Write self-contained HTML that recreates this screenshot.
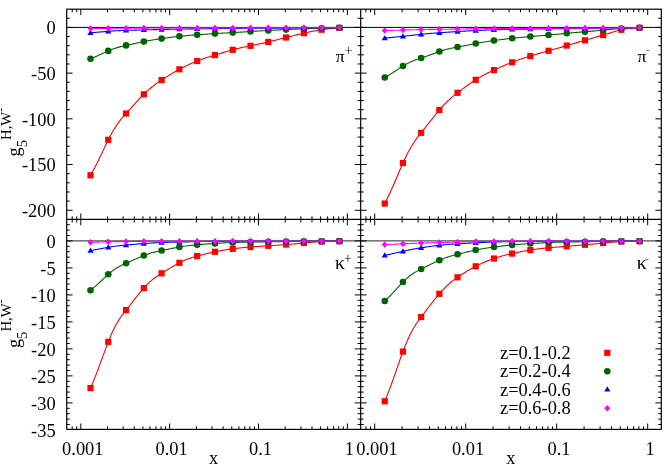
<!DOCTYPE html>
<html><head><meta charset="utf-8"><title>g5 H,W- plots</title>
<style>html,body{margin:0;padding:0;background:#fff;}body{width:668px;height:467px;overflow:hidden;font-family:"Liberation Serif",serif;}svg{display:block;will-change:transform;opacity:0.999;}</style></head>
<body>
<svg width="668" height="467" viewBox="0 0 668 467" font-family="'Liberation Serif', serif" font-size="18.4" fill="#000">
<rect width="668" height="467" fill="#fff"/>
<line x1="66.7" y1="27.4" x2="661.3" y2="27.4" stroke="#000" stroke-width="1.0"/>
<line x1="66.7" y1="240.9" x2="661.3" y2="240.9" stroke="#222" stroke-width="1.0"/>
<polyline points="90.5,175.3 91.39,173.74 92.28,172.15 93.17,170.53 94.06,168.87 94.94,167.18 95.83,165.47 96.72,163.72 97.61,161.94 98.5,160.14 99.39,158.32 100.28,156.48 101.17,154.62 102.06,152.75 102.95,150.88 103.83,149 104.72,147.13 105.61,145.26 106.5,143.41 107.39,141.59 108.28,139.8 109.17,138.05 110.06,136.34 110.95,134.68 111.84,133.07 112.72,131.51 113.61,129.99 114.5,128.52 115.39,127.11 116.28,125.74 117.17,124.43 118.06,123.16 118.95,121.94 119.84,120.77 120.73,119.64 121.62,118.55 122.5,117.5 123.39,116.47 124.28,115.47 125.17,114.48 126.06,113.5 126.95,112.52 127.84,111.54 128.73,110.55 129.62,109.56 130.5,108.58 131.39,107.59 132.28,106.61 133.17,105.62 134.06,104.64 134.95,103.66 135.84,102.69 136.73,101.72 137.62,100.76 138.51,99.81 139.4,98.86 140.28,97.93 141.17,97 142.06,96.09 142.95,95.19 143.84,94.3 144.73,93.43 145.62,92.57 146.51,91.73 147.4,90.9 148.28,90.09 149.17,89.3 150.06,88.53 150.95,87.78 151.84,87.04 152.73,86.33 153.62,85.63 154.51,84.95 155.4,84.29 156.29,83.64 157.18,83.02 158.06,82.4 158.95,81.8 159.84,81.21 160.73,80.63 161.62,80.05 162.51,79.47 163.4,78.9 164.29,78.33 165.18,77.76 166.06,77.2 166.95,76.63 167.84,76.08 168.73,75.52 169.62,74.97 170.51,74.43 171.4,73.89 172.29,73.36 173.18,72.83 174.07,72.31 174.96,71.79 175.84,71.28 176.73,70.78 177.62,70.28 178.51,69.79 179.4,69.3 180.29,68.82 181.18,68.34 182.07,67.88 182.96,67.41 183.84,66.96 184.73,66.51 185.62,66.07 186.51,65.63 187.4,65.21 188.29,64.79 189.18,64.38 190.07,63.98 190.96,63.59 191.85,63.21 192.74,62.83 193.62,62.46 194.51,62.1 195.4,61.74 196.29,61.39 197.18,61.05 198.07,60.71 198.96,60.37 199.85,60.04 200.74,59.71 201.62,59.39 202.51,59.07 203.4,58.75 204.29,58.44 205.18,58.14 206.07,57.84 206.96,57.54 207.85,57.25 208.74,56.96 209.63,56.68 210.52,56.4 211.4,56.13 212.29,55.86 213.18,55.59 214.07,55.32 214.96,55.05 215.85,54.78 216.74,54.51 217.63,54.24 218.52,53.97 219.41,53.7 220.29,53.43 221.18,53.16 222.07,52.89 222.96,52.63 223.85,52.36 224.74,52.09 225.63,51.83 226.52,51.57 227.41,51.31 228.3,51.05 229.18,50.79 230.07,50.54 230.96,50.29 231.85,50.04 232.74,49.8 233.63,49.56 234.52,49.33 235.41,49.1 236.3,48.87 237.19,48.65 238.07,48.43 238.96,48.22 239.85,48.01 240.74,47.81 241.63,47.61 242.52,47.41 243.41,47.22 244.3,47.04 245.19,46.86 246.08,46.68 246.96,46.5 247.85,46.32 248.74,46.15 249.63,45.97 250.52,45.8 251.41,45.62 252.3,45.44 253.19,45.26 254.08,45.08 254.97,44.9 255.85,44.71 256.74,44.52 257.63,44.33 258.52,44.14 259.41,43.94 260.3,43.74 261.19,43.55 262.08,43.35 262.97,43.14 263.86,42.94 264.74,42.74 265.63,42.53 266.52,42.32 267.41,42.11 268.3,41.9 269.19,41.69 270.08,41.47 270.97,41.26 271.86,41.04 272.75,40.83 273.63,40.61 274.52,40.39 275.41,40.17 276.3,39.95 277.19,39.73 278.08,39.51 278.97,39.28 279.86,39.06 280.75,38.84 281.63,38.62 282.52,38.39 283.41,38.17 284.3,37.95 285.19,37.72 286.08,37.5 286.97,37.28 287.86,37.05 288.75,36.83 289.64,36.61 290.52,36.39 291.41,36.17 292.3,35.95 293.19,35.73 294.08,35.51 294.97,35.29 295.86,35.08 296.75,34.86 297.64,34.65 298.53,34.44 299.42,34.23 300.3,34.02 301.19,33.81 302.08,33.61 302.97,33.4 303.86,33.2 304.75,33 305.64,32.8 306.53,32.6 307.42,32.41 308.31,32.21 309.19,32.02 310.08,31.83 310.97,31.65 311.86,31.46 312.75,31.28 313.64,31.11 314.53,30.94 315.42,30.77 316.31,30.6 317.2,30.44 318.08,30.28 318.97,30.13 319.86,29.98 320.75,29.84 321.64,29.7 322.53,29.57 323.42,29.44 324.31,29.31 325.2,29.19 326.08,29.08 326.97,28.97 327.86,28.86 328.75,28.76 329.64,28.67 330.53,28.58 331.42,28.5 332.31,28.42 333.2,28.34 334.09,28.27 334.98,28.21 335.86,28.14 336.75,28.08 337.64,28.02 338.53,27.96 339.42,27.9" fill="none" stroke="#ff0000" stroke-width="1.1" stroke-linejoin="round"/>
<rect x="87.4" y="172.2" width="6.2" height="6.2" fill="#ff0000"/>
<rect x="105.18" y="136.7" width="6.2" height="6.2" fill="#ff0000"/>
<rect x="122.96" y="110.4" width="6.2" height="6.2" fill="#ff0000"/>
<rect x="140.74" y="91.2" width="6.2" height="6.2" fill="#ff0000"/>
<rect x="158.52" y="76.95" width="6.2" height="6.2" fill="#ff0000"/>
<rect x="176.3" y="66.2" width="6.2" height="6.2" fill="#ff0000"/>
<rect x="194.08" y="57.95" width="6.2" height="6.2" fill="#ff0000"/>
<rect x="211.86" y="51.95" width="6.2" height="6.2" fill="#ff0000"/>
<rect x="229.64" y="46.7" width="6.2" height="6.2" fill="#ff0000"/>
<rect x="247.42" y="42.7" width="6.2" height="6.2" fill="#ff0000"/>
<rect x="265.2" y="38.8" width="6.2" height="6.2" fill="#ff0000"/>
<rect x="282.98" y="34.4" width="6.2" height="6.2" fill="#ff0000"/>
<rect x="300.76" y="30.1" width="6.2" height="6.2" fill="#ff0000"/>
<rect x="318.54" y="26.6" width="6.2" height="6.2" fill="#ff0000"/>
<rect x="336.32" y="24.8" width="6.2" height="6.2" fill="#ff0000"/>
<polyline points="90.5,58.7 91.39,58.36 92.28,58.01 93.17,57.65 94.06,57.28 94.94,56.91 95.83,56.53 96.72,56.15 97.61,55.75 98.5,55.36 99.39,54.96 100.28,54.55 101.17,54.14 102.06,53.73 102.95,53.32 103.83,52.91 104.72,52.5 105.61,52.09 106.5,51.69 107.39,51.29 108.28,50.9 109.17,50.52 110.06,50.15 110.95,49.79 111.84,49.45 112.72,49.11 113.61,48.79 114.5,48.48 115.39,48.18 116.28,47.89 117.17,47.62 118.06,47.35 118.95,47.1 119.84,46.86 120.73,46.63 121.62,46.41 122.5,46.2 123.39,45.99 124.28,45.79 125.17,45.59 126.06,45.4 126.95,45.21 127.84,45.01 128.73,44.82 129.62,44.62 130.5,44.43 131.39,44.23 132.28,44.04 133.17,43.84 134.06,43.65 134.95,43.46 135.84,43.27 136.73,43.07 137.62,42.89 138.51,42.7 139.4,42.51 140.28,42.32 141.17,42.14 142.06,41.96 142.95,41.78 143.84,41.6 144.73,41.42 145.62,41.25 146.51,41.08 147.4,40.91 148.28,40.75 149.17,40.58 150.06,40.42 150.95,40.27 151.84,40.11 152.73,39.96 153.62,39.81 154.51,39.67 155.4,39.53 156.29,39.39 157.18,39.25 158.06,39.12 158.95,38.99 159.84,38.86 160.73,38.73 161.62,38.6 162.51,38.47 163.4,38.35 164.29,38.22 165.18,38.1 166.06,37.97 166.95,37.85 167.84,37.73 168.73,37.61 169.62,37.49 170.51,37.37 171.4,37.26 172.29,37.14 173.18,37.03 174.07,36.92 174.96,36.81 175.84,36.71 176.73,36.6 177.62,36.5 178.51,36.4 179.4,36.3 180.29,36.2 181.18,36.11 182.07,36.02 182.96,35.93 183.84,35.84 184.73,35.76 185.62,35.67 186.51,35.59 187.4,35.52 188.29,35.44 189.18,35.37 190.07,35.3 190.96,35.23 191.85,35.17 192.74,35.1 193.62,35.04 194.51,34.98 195.4,34.92 196.29,34.86 197.18,34.8 198.07,34.74 198.96,34.68 199.85,34.62 200.74,34.56 201.62,34.5 202.51,34.44 203.4,34.38 204.29,34.32 205.18,34.26 206.07,34.2 206.96,34.14 207.85,34.07 208.74,34.01 209.63,33.95 210.52,33.89 211.4,33.83 212.29,33.77 213.18,33.72 214.07,33.66 214.96,33.6 215.85,33.54 216.74,33.49 217.63,33.43 218.52,33.38 219.41,33.32 220.29,33.27 221.18,33.22 222.07,33.17 222.96,33.12 223.85,33.07 224.74,33.02 225.63,32.97 226.52,32.93 227.41,32.88 228.3,32.83 229.18,32.79 230.07,32.74 230.96,32.69 231.85,32.65 232.74,32.6 233.63,32.55 234.52,32.5 235.41,32.45 236.3,32.4 237.19,32.35 238.07,32.3 238.96,32.24 239.85,32.19 240.74,32.13 241.63,32.08 242.52,32.02 243.41,31.96 244.3,31.91 245.19,31.85 246.08,31.79 246.96,31.73 247.85,31.67 248.74,31.62 249.63,31.56 250.52,31.5 251.41,31.44 252.3,31.39 253.19,31.33 254.08,31.28 254.97,31.22 255.85,31.17 256.74,31.12 257.63,31.06 258.52,31.01 259.41,30.96 260.3,30.91 261.19,30.87 262.08,30.82 262.97,30.77 263.86,30.73 264.74,30.68 265.63,30.63 266.52,30.59 267.41,30.54 268.3,30.5 269.19,30.46 270.08,30.41 270.97,30.37 271.86,30.32 272.75,30.27 273.63,30.23 274.52,30.18 275.41,30.14 276.3,30.09 277.19,30.05 278.08,30 278.97,29.96 279.86,29.91 280.75,29.87 281.63,29.82 282.52,29.78 283.41,29.73 284.3,29.69 285.19,29.64 286.08,29.6 286.97,29.56 287.86,29.51 288.75,29.47 289.64,29.43 290.52,29.38 291.41,29.34 292.3,29.3 293.19,29.26 294.08,29.22 294.97,29.18 295.86,29.14 296.75,29.1 297.64,29.06 298.53,29.02 299.42,28.98 300.3,28.94 301.19,28.91 302.08,28.87 302.97,28.84 303.86,28.8 304.75,28.76 305.64,28.73 306.53,28.7 307.42,28.66 308.31,28.63 309.19,28.6 310.08,28.56 310.97,28.53 311.86,28.5 312.75,28.47 313.64,28.44 314.53,28.41 315.42,28.38 316.31,28.35 317.2,28.33 318.08,28.3 318.97,28.27 319.86,28.25 320.75,28.22 321.64,28.2 322.53,28.18 323.42,28.15 324.31,28.13 325.2,28.11 326.08,28.08 326.97,28.06 327.86,28.04 328.75,28.02 329.64,28 330.53,27.98 331.42,27.96 332.31,27.94 333.2,27.93 334.09,27.91 334.98,27.89 335.86,27.87 336.75,27.85 337.64,27.84 338.53,27.82 339.42,27.8" fill="none" stroke="#006400" stroke-width="1.1" stroke-linejoin="round"/>
<circle cx="90.5" cy="58.7" r="3.3" fill="#006400"/>
<circle cx="108.28" cy="50.9" r="3.3" fill="#006400"/>
<circle cx="126.06" cy="45.4" r="3.3" fill="#006400"/>
<circle cx="143.84" cy="41.6" r="3.3" fill="#006400"/>
<circle cx="161.62" cy="38.6" r="3.3" fill="#006400"/>
<circle cx="179.4" cy="36.3" r="3.3" fill="#006400"/>
<circle cx="197.18" cy="34.8" r="3.3" fill="#006400"/>
<circle cx="214.96" cy="33.6" r="3.3" fill="#006400"/>
<circle cx="232.74" cy="32.6" r="3.3" fill="#006400"/>
<circle cx="250.52" cy="31.5" r="3.3" fill="#006400"/>
<circle cx="268.3" cy="30.5" r="3.3" fill="#006400"/>
<circle cx="286.08" cy="29.6" r="3.3" fill="#006400"/>
<circle cx="303.86" cy="28.8" r="3.3" fill="#006400"/>
<circle cx="321.64" cy="28.2" r="3.3" fill="#006400"/>
<circle cx="339.42" cy="27.8" r="3.3" fill="#006400"/>
<polyline points="90.5,32.8 91.39,32.73 92.28,32.66 93.17,32.6 94.06,32.52 94.94,32.45 95.83,32.38 96.72,32.3 97.61,32.23 98.5,32.15 99.39,32.07 100.28,31.99 101.17,31.92 102.06,31.84 102.95,31.76 103.83,31.68 104.72,31.6 105.61,31.52 106.5,31.45 107.39,31.37 108.28,31.3 109.17,31.23 110.06,31.16 110.95,31.1 111.84,31.04 112.72,30.98 113.61,30.92 114.5,30.87 115.39,30.82 116.28,30.77 117.17,30.72 118.06,30.68 118.95,30.64 119.84,30.6 120.73,30.57 121.62,30.54 122.5,30.51 123.39,30.48 124.28,30.45 125.17,30.43 126.06,30.4 126.95,30.37 127.84,30.35 128.73,30.32 129.62,30.3 130.5,30.27 131.39,30.25 132.28,30.22 133.17,30.2 134.06,30.17 134.95,30.14 135.84,30.12 136.73,30.09 137.62,30.07 138.51,30.04 139.4,30.02 140.28,29.99 141.17,29.97 142.06,29.95 142.95,29.92 143.84,29.9 144.73,29.88 145.62,29.85 146.51,29.83 147.4,29.81 148.28,29.79 149.17,29.77 150.06,29.75 150.95,29.73 151.84,29.71 152.73,29.69 153.62,29.67 154.51,29.65 155.4,29.63 156.29,29.61 157.18,29.59 158.06,29.57 158.95,29.55 159.84,29.54 160.73,29.52 161.62,29.5 162.51,29.48 163.4,29.46 164.29,29.44 165.18,29.42 166.06,29.4 166.95,29.38 167.84,29.36 168.73,29.34 169.62,29.32 170.51,29.3 171.4,29.28 172.29,29.26 173.18,29.24 174.07,29.22 174.96,29.2 175.84,29.18 176.73,29.16 177.62,29.14 178.51,29.12 179.4,29.1 180.29,29.08 181.18,29.06 182.07,29.04 182.96,29.03 183.84,29.01 184.73,28.99 185.62,28.97 186.51,28.96 187.4,28.94 188.29,28.93 189.18,28.91 190.07,28.9 190.96,28.88 191.85,28.87 192.74,28.86 193.62,28.85 194.51,28.83 195.4,28.82 196.29,28.81 197.18,28.8 198.07,28.79 198.96,28.78 199.85,28.77 200.74,28.76 201.62,28.75 202.51,28.74 203.4,28.73 204.29,28.71 205.18,28.7 206.07,28.69 206.96,28.69 207.85,28.68 208.74,28.67 209.63,28.66 210.52,28.65 211.4,28.64 212.29,28.63 213.18,28.62 214.07,28.61 214.96,28.6 215.85,28.59 216.74,28.58 217.63,28.57 218.52,28.56 219.41,28.55 220.29,28.54 221.18,28.53 222.07,28.52 222.96,28.51 223.85,28.5 224.74,28.49 225.63,28.48 226.52,28.47 227.41,28.46 228.3,28.45 229.18,28.44 230.07,28.43 230.96,28.42 231.85,28.41 232.74,28.4 233.63,28.39 234.52,28.38 235.41,28.38 236.3,28.37 237.19,28.36 238.07,28.35 238.96,28.35 239.85,28.34 240.74,28.34 241.63,28.33 242.52,28.33 243.41,28.32 244.3,28.32 245.19,28.32 246.08,28.31 246.96,28.31 247.85,28.31 248.74,28.31 249.63,28.3 250.52,28.3 251.41,28.3 252.3,28.29 253.19,28.29 254.08,28.29 254.97,28.28 255.85,28.28 256.74,28.27 257.63,28.27 258.52,28.26 259.41,28.26 260.3,28.25 261.19,28.25 262.08,28.24 262.97,28.24 263.86,28.23 264.74,28.22 265.63,28.22 266.52,28.21 267.41,28.21 268.3,28.2 269.19,28.19 270.08,28.19 270.97,28.18 271.86,28.18 272.75,28.17 273.63,28.17 274.52,28.16 275.41,28.16 276.3,28.15 277.19,28.15 278.08,28.14 278.97,28.14 279.86,28.13 280.75,28.13 281.63,28.12 282.52,28.12 283.41,28.11 284.3,28.11 285.19,28.1 286.08,28.1 286.97,28.1 287.86,28.09 288.75,28.09 289.64,28.08 290.52,28.08 291.41,28.07 292.3,28.07 293.19,28.06 294.08,28.06 294.97,28.05 295.86,28.05 296.75,28.04 297.64,28.04 298.53,28.03 299.42,28.03 300.3,28.02 301.19,28.02 302.08,28.01 302.97,28.01 303.86,28 304.75,27.99 305.64,27.99 306.53,27.98 307.42,27.98 308.31,27.97 309.19,27.97 310.08,27.96 310.97,27.96 311.86,27.95 312.75,27.95 313.64,27.94 314.53,27.94 315.42,27.93 316.31,27.93 317.2,27.92 318.08,27.92 318.97,27.91 319.86,27.91 320.75,27.9 321.64,27.9 322.53,27.9 323.42,27.89 324.31,27.89 325.2,27.88 326.08,27.88 326.97,27.87 327.86,27.87 328.75,27.86 329.64,27.86 330.53,27.85 331.42,27.85 332.31,27.84 333.2,27.84 334.09,27.83 334.98,27.83 335.86,27.82 336.75,27.82 337.64,27.81 338.53,27.81 339.42,27.8" fill="none" stroke="#0000ff" stroke-width="1.1" stroke-linejoin="round"/>
<path d="M90.5 29.8L93.6 34.93L87.4 34.93Z" fill="#0000ff"/>
<path d="M108.28 28.3L111.38 33.43L105.18 33.43Z" fill="#0000ff"/>
<path d="M126.06 27.4L129.16 32.53L122.96 32.53Z" fill="#0000ff"/>
<path d="M143.84 26.9L146.94 32.03L140.74 32.03Z" fill="#0000ff"/>
<path d="M161.62 26.5L164.72 31.63L158.52 31.63Z" fill="#0000ff"/>
<path d="M179.4 26.1L182.5 31.23L176.3 31.23Z" fill="#0000ff"/>
<path d="M197.18 25.8L200.28 30.93L194.08 30.93Z" fill="#0000ff"/>
<path d="M214.96 25.6L218.06 30.73L211.86 30.73Z" fill="#0000ff"/>
<path d="M232.74 25.4L235.84 30.53L229.64 30.53Z" fill="#0000ff"/>
<path d="M250.52 25.3L253.62 30.43L247.42 30.43Z" fill="#0000ff"/>
<path d="M268.3 25.2L271.4 30.33L265.2 30.33Z" fill="#0000ff"/>
<path d="M286.08 25.1L289.18 30.23L282.98 30.23Z" fill="#0000ff"/>
<path d="M303.86 25L306.96 30.13L300.76 30.13Z" fill="#0000ff"/>
<path d="M321.64 24.9L324.74 30.03L318.54 30.03Z" fill="#0000ff"/>
<path d="M339.42 24.8L342.52 29.93L336.32 29.93Z" fill="#0000ff"/>
<polyline points="90.5,28.5 91.39,28.49 92.28,28.48 93.17,28.47 94.06,28.46 94.94,28.45 95.83,28.44 96.72,28.43 97.61,28.42 98.5,28.41 99.39,28.4 100.28,28.39 101.17,28.38 102.06,28.37 102.95,28.36 103.83,28.35 104.72,28.34 105.61,28.33 106.5,28.32 107.39,28.31 108.28,28.3 109.17,28.29 110.06,28.28 110.95,28.27 111.84,28.27 112.72,28.26 113.61,28.25 114.5,28.25 115.39,28.24 116.28,28.24 117.17,28.23 118.06,28.23 118.95,28.22 119.84,28.22 120.73,28.22 121.62,28.21 122.5,28.21 123.39,28.21 124.28,28.21 125.17,28.2 126.06,28.2 126.95,28.2 127.84,28.19 128.73,28.19 129.62,28.19 130.5,28.18 131.39,28.18 132.28,28.17 133.17,28.17 134.06,28.16 134.95,28.16 135.84,28.15 136.73,28.15 137.62,28.14 138.51,28.14 139.4,28.13 140.28,28.13 141.17,28.12 142.06,28.11 142.95,28.11 143.84,28.1 144.73,28.09 145.62,28.09 146.51,28.08 147.4,28.08 148.28,28.07 149.17,28.06 150.06,28.06 150.95,28.05 151.84,28.05 152.73,28.04 153.62,28.04 154.51,28.03 155.4,28.03 156.29,28.02 157.18,28.02 158.06,28.01 158.95,28.01 159.84,28.01 160.73,28 161.62,28 162.51,28 163.4,28 164.29,27.99 165.18,27.99 166.06,27.99 166.95,27.99 167.84,27.99 168.73,27.99 169.62,27.99 170.51,27.99 171.4,27.99 172.29,27.99 173.18,27.99 174.07,28 174.96,28 175.84,28 176.73,28 177.62,28 178.51,28 179.4,28 180.29,28 181.18,28 182.07,28 182.96,27.99 183.84,27.99 184.73,27.99 185.62,27.98 186.51,27.98 187.4,27.97 188.29,27.97 189.18,27.96 190.07,27.96 190.96,27.95 191.85,27.94 192.74,27.93 193.62,27.93 194.51,27.92 195.4,27.91 196.29,27.91 197.18,27.9 198.07,27.89 198.96,27.89 199.85,27.88 200.74,27.88 201.62,27.88 202.51,27.88 203.4,27.87 204.29,27.87 205.18,27.87 206.07,27.87 206.96,27.87 207.85,27.88 208.74,27.88 209.63,27.88 210.52,27.88 211.4,27.89 212.29,27.89 213.18,27.89 214.07,27.9 214.96,27.9 215.85,27.9 216.74,27.91 217.63,27.91 218.52,27.91 219.41,27.91 220.29,27.91 221.18,27.92 222.07,27.92 222.96,27.92 223.85,27.92 224.74,27.92 225.63,27.92 226.52,27.92 227.41,27.91 228.3,27.91 229.18,27.91 230.07,27.91 230.96,27.91 231.85,27.9 232.74,27.9 233.63,27.9 234.52,27.89 235.41,27.89 236.3,27.88 237.19,27.88 238.07,27.88 238.96,27.87 239.85,27.87 240.74,27.86 241.63,27.85 242.52,27.85 243.41,27.84 244.3,27.84 245.19,27.83 246.08,27.83 246.96,27.82 247.85,27.81 248.74,27.81 249.63,27.8 250.52,27.8 251.41,27.8 252.3,27.79 253.19,27.79 254.08,27.79 254.97,27.78 255.85,27.78 256.74,27.78 257.63,27.78 258.52,27.78 259.41,27.78 260.3,27.78 261.19,27.78 262.08,27.78 262.97,27.79 263.86,27.79 264.74,27.79 265.63,27.79 266.52,27.8 267.41,27.8 268.3,27.8 269.19,27.8 270.08,27.8 270.97,27.81 271.86,27.81 272.75,27.81 273.63,27.81 274.52,27.81 275.41,27.81 276.3,27.81 277.19,27.81 278.08,27.81 278.97,27.81 279.86,27.81 280.75,27.81 281.63,27.81 282.52,27.81 283.41,27.8 284.3,27.8 285.19,27.8 286.08,27.8 286.97,27.8 287.86,27.8 288.75,27.8 289.64,27.8 290.52,27.8 291.41,27.8 292.3,27.79 293.19,27.79 294.08,27.79 294.97,27.79 295.86,27.79 296.75,27.8 297.64,27.8 298.53,27.8 299.42,27.8 300.3,27.8 301.19,27.8 302.08,27.8 302.97,27.8 303.86,27.8 304.75,27.8 305.64,27.8 306.53,27.8 307.42,27.8 308.31,27.8 309.19,27.8 310.08,27.8 310.97,27.8 311.86,27.8 312.75,27.8 313.64,27.8 314.53,27.8 315.42,27.8 316.31,27.8 317.2,27.8 318.08,27.8 318.97,27.8 319.86,27.8 320.75,27.8 321.64,27.8 322.53,27.8 323.42,27.8 324.31,27.8 325.2,27.8 326.08,27.8 326.97,27.8 327.86,27.8 328.75,27.8 329.64,27.8 330.53,27.8 331.42,27.8 332.31,27.8 333.2,27.8 334.09,27.8 334.98,27.8 335.86,27.8 336.75,27.8 337.64,27.8 338.53,27.8 339.42,27.8" fill="none" stroke="#ff00ff" stroke-width="1.1" stroke-linejoin="round"/>
<path d="M90.5 25.25L93.45 28.5L90.5 31.75L87.55 28.5Z" fill="#ff00ff"/>
<path d="M108.28 25.05L111.23 28.3L108.28 31.55L105.33 28.3Z" fill="#ff00ff"/>
<path d="M126.06 24.95L129.01 28.2L126.06 31.45L123.11 28.2Z" fill="#ff00ff"/>
<path d="M143.84 24.85L146.79 28.1L143.84 31.35L140.89 28.1Z" fill="#ff00ff"/>
<path d="M161.62 24.75L164.57 28L161.62 31.25L158.67 28Z" fill="#ff00ff"/>
<path d="M179.4 24.75L182.35 28L179.4 31.25L176.45 28Z" fill="#ff00ff"/>
<path d="M197.18 24.65L200.13 27.9L197.18 31.15L194.23 27.9Z" fill="#ff00ff"/>
<path d="M214.96 24.65L217.91 27.9L214.96 31.15L212.01 27.9Z" fill="#ff00ff"/>
<path d="M232.74 24.65L235.69 27.9L232.74 31.15L229.79 27.9Z" fill="#ff00ff"/>
<path d="M250.52 24.55L253.47 27.8L250.52 31.05L247.57 27.8Z" fill="#ff00ff"/>
<path d="M268.3 24.55L271.25 27.8L268.3 31.05L265.35 27.8Z" fill="#ff00ff"/>
<path d="M286.08 24.55L289.03 27.8L286.08 31.05L283.13 27.8Z" fill="#ff00ff"/>
<path d="M303.86 24.55L306.81 27.8L303.86 31.05L300.91 27.8Z" fill="#ff00ff"/>
<path d="M321.64 24.55L324.59 27.8L321.64 31.05L318.69 27.8Z" fill="#ff00ff"/>
<path d="M339.42 24.55L342.37 27.8L339.42 31.05L336.47 27.8Z" fill="#ff00ff"/>
<polyline points="384.75,203.55 385.66,201.78 386.57,199.96 387.48,198.11 388.39,196.22 389.3,194.3 390.21,192.34 391.12,190.34 392.03,188.32 392.94,186.26 393.85,184.19 394.76,182.09 395.67,179.97 396.58,177.84 397.49,175.7 398.4,173.55 399.31,171.42 400.22,169.29 401.13,167.18 402.04,165.1 402.95,163.05 403.86,161.05 404.77,159.1 405.68,157.2 406.59,155.36 407.5,153.57 408.41,151.83 409.32,150.15 410.23,148.53 411.14,146.96 412.05,145.45 412.96,143.99 413.87,142.59 414.78,141.24 415.69,139.93 416.6,138.67 417.51,137.45 418.42,136.26 419.33,135.09 420.24,133.94 421.15,132.8 422.06,131.65 422.97,130.5 423.88,129.35 424.79,128.19 425.7,127.03 426.61,125.86 427.52,124.7 428.43,123.53 429.34,122.37 430.25,121.21 431.16,120.05 432.07,118.9 432.98,117.76 433.89,116.62 434.8,115.48 435.71,114.36 436.62,113.25 437.53,112.15 438.44,111.07 439.35,110 440.26,108.95 441.17,107.92 442.08,106.9 442.99,105.91 443.9,104.93 444.81,103.98 445.72,103.05 446.63,102.14 447.54,101.26 448.45,100.39 449.36,99.55 450.27,98.73 451.18,97.93 452.09,97.15 453,96.39 453.91,95.65 454.82,94.92 455.73,94.21 456.64,93.5 457.55,92.8 458.46,92.1 459.37,91.41 460.28,90.72 461.19,90.03 462.1,89.34 463.01,88.66 463.92,87.98 464.83,87.31 465.74,86.65 466.65,85.99 467.56,85.34 468.47,84.69 469.38,84.05 470.29,83.42 471.2,82.8 472.11,82.18 473.02,81.57 473.93,80.97 474.84,80.38 475.75,79.8 476.66,79.22 477.57,78.66 478.48,78.1 479.39,77.55 480.3,77.01 481.21,76.48 482.12,75.96 483.03,75.45 483.94,74.95 484.85,74.46 485.76,73.98 486.67,73.51 487.58,73.05 488.49,72.6 489.4,72.16 490.31,71.72 491.22,71.3 492.13,70.88 493.04,70.46 493.95,70.05 494.86,69.64 495.77,69.23 496.68,68.82 497.59,68.41 498.5,68.01 499.41,67.6 500.32,67.2 501.23,66.81 502.14,66.41 503.05,66.02 503.96,65.63 504.87,65.25 505.78,64.86 506.69,64.49 507.6,64.11 508.51,63.74 509.42,63.38 510.33,63.01 511.24,62.66 512.15,62.3 513.06,61.95 513.97,61.6 514.88,61.25 515.79,60.91 516.7,60.58 517.61,60.24 518.52,59.91 519.43,59.59 520.34,59.27 521.25,58.96 522.16,58.65 523.07,58.34 523.98,58.04 524.89,57.75 525.8,57.46 526.71,57.17 527.62,56.88 528.53,56.6 529.44,56.33 530.35,56.05 531.26,55.77 532.17,55.5 533.08,55.23 533.99,54.96 534.9,54.69 535.81,54.42 536.72,54.15 537.63,53.88 538.54,53.62 539.45,53.36 540.36,53.1 541.27,52.84 542.18,52.58 543.09,52.32 544,52.07 544.91,51.81 545.82,51.56 546.73,51.31 547.64,51.05 548.55,50.8 549.46,50.54 550.37,50.29 551.28,50.03 552.19,49.77 553.1,49.51 554.01,49.25 554.92,48.99 555.83,48.73 556.74,48.46 557.65,48.2 558.56,47.94 559.47,47.67 560.38,47.41 561.29,47.14 562.2,46.88 563.11,46.61 564.02,46.35 564.93,46.08 565.84,45.82 566.75,45.55 567.66,45.28 568.57,45.02 569.48,44.75 570.39,44.49 571.3,44.22 572.21,43.96 573.12,43.69 574.03,43.43 574.94,43.16 575.85,42.9 576.76,42.64 577.67,42.38 578.58,42.11 579.49,41.85 580.4,41.59 581.31,41.34 582.22,41.08 583.13,40.82 584.04,40.56 584.95,40.3 585.86,40.04 586.77,39.78 587.68,39.52 588.59,39.26 589.5,39 590.41,38.74 591.32,38.48 592.23,38.21 593.14,37.95 594.05,37.69 594.96,37.43 595.87,37.17 596.78,36.9 597.69,36.64 598.6,36.38 599.51,36.11 600.42,35.85 601.33,35.58 602.24,35.32 603.15,35.05 604.06,34.78 604.97,34.51 605.88,34.23 606.79,33.96 607.7,33.68 608.61,33.41 609.52,33.13 610.43,32.86 611.34,32.58 612.25,32.31 613.16,32.04 614.07,31.77 614.98,31.5 615.89,31.24 616.8,30.98 617.71,30.73 618.62,30.49 619.53,30.25 620.44,30.02 621.35,29.8 622.26,29.59 623.17,29.39 624.08,29.21 624.99,29.04 625.9,28.87 626.81,28.73 627.72,28.59 628.63,28.47 629.54,28.35 630.45,28.25 631.36,28.17 632.27,28.09 633.18,28.03 634.09,27.97 635,27.93 635.91,27.89 636.82,27.86 637.73,27.84 638.64,27.82 639.55,27.8" fill="none" stroke="#ff0000" stroke-width="1.1" stroke-linejoin="round"/>
<rect x="381.65" y="200.45" width="6.2" height="6.2" fill="#ff0000"/>
<rect x="399.85" y="159.95" width="6.2" height="6.2" fill="#ff0000"/>
<rect x="418.05" y="129.7" width="6.2" height="6.2" fill="#ff0000"/>
<rect x="436.25" y="106.9" width="6.2" height="6.2" fill="#ff0000"/>
<rect x="454.45" y="89.7" width="6.2" height="6.2" fill="#ff0000"/>
<rect x="472.65" y="76.7" width="6.2" height="6.2" fill="#ff0000"/>
<rect x="490.85" y="66.95" width="6.2" height="6.2" fill="#ff0000"/>
<rect x="509.05" y="59.2" width="6.2" height="6.2" fill="#ff0000"/>
<rect x="527.25" y="52.95" width="6.2" height="6.2" fill="#ff0000"/>
<rect x="545.45" y="47.7" width="6.2" height="6.2" fill="#ff0000"/>
<rect x="563.65" y="42.45" width="6.2" height="6.2" fill="#ff0000"/>
<rect x="581.85" y="37.2" width="6.2" height="6.2" fill="#ff0000"/>
<rect x="600.05" y="31.95" width="6.2" height="6.2" fill="#ff0000"/>
<rect x="618.25" y="26.7" width="6.2" height="6.2" fill="#ff0000"/>
<rect x="636.45" y="24.7" width="6.2" height="6.2" fill="#ff0000"/>
<polyline points="384.75,77.55 385.66,77.04 386.57,76.52 387.48,75.99 388.39,75.45 389.3,74.9 390.21,74.34 391.12,73.77 392.03,73.2 392.94,72.61 393.85,72.02 394.76,71.42 395.67,70.82 396.58,70.21 397.49,69.61 398.4,69 399.31,68.4 400.22,67.8 401.13,67.2 402.04,66.62 402.95,66.05 403.86,65.5 404.77,64.96 405.68,64.44 406.59,63.93 407.5,63.45 408.41,62.98 409.32,62.53 410.23,62.1 411.14,61.68 412.05,61.29 412.96,60.91 413.87,60.55 414.78,60.2 415.69,59.87 416.6,59.54 417.51,59.23 418.42,58.93 419.33,58.64 420.24,58.34 421.15,58.05 422.06,57.75 422.97,57.45 423.88,57.14 424.79,56.83 425.7,56.51 426.61,56.19 427.52,55.86 428.43,55.53 429.34,55.2 430.25,54.87 431.16,54.53 432.07,54.19 432.98,53.86 433.89,53.52 434.8,53.18 435.71,52.85 436.62,52.52 437.53,52.19 438.44,51.87 439.35,51.55 440.26,51.24 441.17,50.94 442.08,50.65 442.99,50.37 443.9,50.1 444.81,49.84 445.72,49.59 446.63,49.34 447.54,49.11 448.45,48.89 449.36,48.67 450.27,48.47 451.18,48.27 452.09,48.08 453,47.9 453.91,47.72 454.82,47.55 455.73,47.38 456.64,47.22 457.55,47.05 458.46,46.88 459.37,46.72 460.28,46.55 461.19,46.38 462.1,46.2 463.01,46.03 463.92,45.85 464.83,45.68 465.74,45.5 466.65,45.32 467.56,45.15 468.47,44.97 469.38,44.79 470.29,44.61 471.2,44.43 472.11,44.25 473.02,44.08 473.93,43.9 474.84,43.72 475.75,43.55 476.66,43.38 477.57,43.21 478.48,43.04 479.39,42.87 480.3,42.71 481.21,42.55 482.12,42.39 483.03,42.23 483.94,42.08 484.85,41.92 485.76,41.78 486.67,41.63 487.58,41.49 488.49,41.35 489.4,41.21 490.31,41.07 491.22,40.94 492.13,40.81 493.04,40.68 493.95,40.55 494.86,40.42 495.77,40.3 496.68,40.17 497.59,40.05 498.5,39.93 499.41,39.81 500.32,39.69 501.23,39.57 502.14,39.46 503.05,39.34 503.96,39.23 504.87,39.12 505.78,39.01 506.69,38.91 507.6,38.8 508.51,38.7 509.42,38.6 510.33,38.5 511.24,38.4 512.15,38.3 513.06,38.2 513.97,38.11 514.88,38.01 515.79,37.92 516.7,37.82 517.61,37.73 518.52,37.64 519.43,37.55 520.34,37.46 521.25,37.37 522.16,37.28 523.07,37.2 523.98,37.11 524.89,37.03 525.8,36.95 526.71,36.87 527.62,36.79 528.53,36.71 529.44,36.63 530.35,36.55 531.26,36.47 532.17,36.4 533.08,36.32 533.99,36.24 534.9,36.17 535.81,36.09 536.72,36.02 537.63,35.94 538.54,35.87 539.45,35.79 540.36,35.72 541.27,35.65 542.18,35.57 543.09,35.5 544,35.43 544.91,35.35 545.82,35.28 546.73,35.2 547.64,35.13 548.55,35.05 549.46,34.97 550.37,34.89 551.28,34.81 552.19,34.73 553.1,34.64 554.01,34.56 554.92,34.47 555.83,34.39 556.74,34.3 557.65,34.21 558.56,34.12 559.47,34.03 560.38,33.94 561.29,33.84 562.2,33.75 563.11,33.66 564.02,33.57 564.93,33.48 565.84,33.39 566.75,33.3 567.66,33.21 568.57,33.13 569.48,33.04 570.39,32.96 571.3,32.88 572.21,32.8 573.12,32.72 574.03,32.64 574.94,32.57 575.85,32.5 576.76,32.42 577.67,32.35 578.58,32.28 579.49,32.21 580.4,32.15 581.31,32.08 582.22,32.01 583.13,31.94 584.04,31.87 584.95,31.8 585.86,31.73 586.77,31.65 587.68,31.58 588.59,31.5 589.5,31.42 590.41,31.33 591.32,31.25 592.23,31.16 593.14,31.08 594.05,30.99 594.96,30.9 595.87,30.8 596.78,30.71 597.69,30.62 598.6,30.52 599.51,30.43 600.42,30.33 601.33,30.24 602.24,30.14 603.15,30.05 604.06,29.96 604.97,29.87 605.88,29.78 606.79,29.69 607.7,29.6 608.61,29.52 609.52,29.44 610.43,29.35 611.34,29.28 612.25,29.2 613.16,29.12 614.07,29.05 614.98,28.98 615.89,28.91 616.8,28.85 617.71,28.78 618.62,28.72 619.53,28.66 620.44,28.61 621.35,28.55 622.26,28.5 623.17,28.44 624.08,28.39 624.99,28.35 625.9,28.3 626.81,28.25 627.72,28.21 628.63,28.17 629.54,28.13 630.45,28.1 631.36,28.06 632.27,28.03 633.18,27.99 634.09,27.96 635,27.94 635.91,27.91 636.82,27.88 637.73,27.85 638.64,27.83 639.55,27.8" fill="none" stroke="#006400" stroke-width="1.1" stroke-linejoin="round"/>
<circle cx="384.75" cy="77.55" r="3.3" fill="#006400"/>
<circle cx="402.95" cy="66.05" r="3.3" fill="#006400"/>
<circle cx="421.15" cy="58.05" r="3.3" fill="#006400"/>
<circle cx="439.35" cy="51.55" r="3.3" fill="#006400"/>
<circle cx="457.55" cy="47.05" r="3.3" fill="#006400"/>
<circle cx="475.75" cy="43.55" r="3.3" fill="#006400"/>
<circle cx="493.95" cy="40.55" r="3.3" fill="#006400"/>
<circle cx="512.15" cy="38.3" r="3.3" fill="#006400"/>
<circle cx="530.35" cy="36.55" r="3.3" fill="#006400"/>
<circle cx="548.55" cy="35.05" r="3.3" fill="#006400"/>
<circle cx="566.75" cy="33.3" r="3.3" fill="#006400"/>
<circle cx="584.95" cy="31.8" r="3.3" fill="#006400"/>
<circle cx="603.15" cy="30.05" r="3.3" fill="#006400"/>
<circle cx="621.35" cy="28.55" r="3.3" fill="#006400"/>
<circle cx="639.55" cy="27.8" r="3.3" fill="#006400"/>
<polyline points="384.75,38.05 385.66,37.98 386.57,37.9 387.48,37.83 388.39,37.75 389.3,37.67 390.21,37.59 391.12,37.51 392.03,37.42 392.94,37.34 393.85,37.25 394.76,37.16 395.67,37.07 396.58,36.98 397.49,36.88 398.4,36.79 399.31,36.69 400.22,36.6 401.13,36.5 402.04,36.4 402.95,36.3 403.86,36.2 404.77,36.1 405.68,36 406.59,35.9 407.5,35.8 408.41,35.69 409.32,35.59 410.23,35.49 411.14,35.39 412.05,35.29 412.96,35.18 413.87,35.08 414.78,34.98 415.69,34.88 416.6,34.78 417.51,34.68 418.42,34.59 419.33,34.49 420.24,34.39 421.15,34.3 422.06,34.21 422.97,34.12 423.88,34.03 424.79,33.94 425.7,33.86 426.61,33.77 427.52,33.69 428.43,33.61 429.34,33.54 430.25,33.46 431.16,33.39 432.07,33.32 432.98,33.25 433.89,33.18 434.8,33.12 435.71,33.05 436.62,32.99 437.53,32.92 438.44,32.86 439.35,32.8 440.26,32.74 441.17,32.67 442.08,32.61 442.99,32.55 443.9,32.49 444.81,32.42 445.72,32.36 446.63,32.3 447.54,32.23 448.45,32.17 449.36,32.1 450.27,32.04 451.18,31.98 452.09,31.92 453,31.85 453.91,31.79 454.82,31.73 455.73,31.67 456.64,31.61 457.55,31.55 458.46,31.49 459.37,31.43 460.28,31.38 461.19,31.32 462.1,31.26 463.01,31.21 463.92,31.16 464.83,31.1 465.74,31.05 466.65,31 467.56,30.95 468.47,30.9 469.38,30.86 470.29,30.81 471.2,30.77 472.11,30.72 473.02,30.68 473.93,30.63 474.84,30.59 475.75,30.55 476.66,30.51 477.57,30.47 478.48,30.43 479.39,30.38 480.3,30.34 481.21,30.3 482.12,30.26 483.03,30.23 483.94,30.19 484.85,30.15 485.76,30.11 486.67,30.07 487.58,30.04 488.49,30 489.4,29.97 490.31,29.93 491.22,29.9 492.13,29.87 493.04,29.83 493.95,29.8 494.86,29.77 495.77,29.74 496.68,29.71 497.59,29.68 498.5,29.65 499.41,29.62 500.32,29.59 501.23,29.56 502.14,29.54 503.05,29.51 503.96,29.49 504.87,29.46 505.78,29.44 506.69,29.42 507.6,29.4 508.51,29.38 509.42,29.36 510.33,29.34 511.24,29.32 512.15,29.3 513.06,29.28 513.97,29.27 514.88,29.25 515.79,29.23 516.7,29.22 517.61,29.2 518.52,29.19 519.43,29.18 520.34,29.16 521.25,29.15 522.16,29.14 523.07,29.13 523.98,29.12 524.89,29.11 525.8,29.1 526.71,29.09 527.62,29.08 528.53,29.07 529.44,29.06 530.35,29.05 531.26,29.04 532.17,29.03 533.08,29.02 533.99,29.01 534.9,29 535.81,28.99 536.72,28.97 537.63,28.96 538.54,28.95 539.45,28.94 540.36,28.92 541.27,28.91 542.18,28.9 543.09,28.88 544,28.87 544.91,28.86 545.82,28.84 546.73,28.83 547.64,28.81 548.55,28.8 549.46,28.79 550.37,28.77 551.28,28.76 552.19,28.75 553.1,28.73 554.01,28.72 554.92,28.71 555.83,28.69 556.74,28.68 557.65,28.67 558.56,28.66 559.47,28.64 560.38,28.63 561.29,28.62 562.2,28.61 563.11,28.6 564.02,28.59 564.93,28.57 565.84,28.56 566.75,28.55 567.66,28.54 568.57,28.53 569.48,28.51 570.39,28.5 571.3,28.49 572.21,28.48 573.12,28.46 574.03,28.45 574.94,28.44 575.85,28.43 576.76,28.41 577.67,28.4 578.58,28.39 579.49,28.37 580.4,28.36 581.31,28.35 582.22,28.34 583.13,28.32 584.04,28.31 584.95,28.3 585.86,28.29 586.77,28.28 587.68,28.26 588.59,28.25 589.5,28.24 590.41,28.23 591.32,28.22 592.23,28.21 593.14,28.2 594.05,28.19 594.96,28.18 595.87,28.17 596.78,28.16 597.69,28.15 598.6,28.14 599.51,28.14 600.42,28.13 601.33,28.12 602.24,28.11 603.15,28.1 604.06,28.09 604.97,28.08 605.88,28.07 606.79,28.06 607.7,28.05 608.61,28.04 609.52,28.03 610.43,28.02 611.34,28.01 612.25,28 613.16,27.99 614.07,27.98 614.98,27.97 615.89,27.96 616.8,27.95 617.71,27.94 618.62,27.93 619.53,27.92 620.44,27.91 621.35,27.9 622.26,27.89 623.17,27.88 624.08,27.87 624.99,27.87 625.9,27.86 626.81,27.85 627.72,27.85 628.63,27.84 629.54,27.84 630.45,27.83 631.36,27.83 632.27,27.82 633.18,27.82 634.09,27.81 635,27.81 635.91,27.81 636.82,27.81 637.73,27.8 638.64,27.8 639.55,27.8" fill="none" stroke="#0000ff" stroke-width="1.1" stroke-linejoin="round"/>
<path d="M384.75 35.05L387.85 40.18L381.65 40.18Z" fill="#0000ff"/>
<path d="M402.95 33.3L406.05 38.43L399.85 38.43Z" fill="#0000ff"/>
<path d="M421.15 31.3L424.25 36.43L418.05 36.43Z" fill="#0000ff"/>
<path d="M439.35 29.8L442.45 34.93L436.25 34.93Z" fill="#0000ff"/>
<path d="M457.55 28.55L460.65 33.68L454.45 33.68Z" fill="#0000ff"/>
<path d="M475.75 27.55L478.85 32.68L472.65 32.68Z" fill="#0000ff"/>
<path d="M493.95 26.8L497.05 31.93L490.85 31.93Z" fill="#0000ff"/>
<path d="M512.15 26.3L515.25 31.43L509.05 31.43Z" fill="#0000ff"/>
<path d="M530.35 26.05L533.45 31.18L527.25 31.18Z" fill="#0000ff"/>
<path d="M548.55 25.8L551.65 30.93L545.45 30.93Z" fill="#0000ff"/>
<path d="M566.75 25.55L569.85 30.68L563.65 30.68Z" fill="#0000ff"/>
<path d="M584.95 25.3L588.05 30.43L581.85 30.43Z" fill="#0000ff"/>
<path d="M603.15 25.1L606.25 30.23L600.05 30.23Z" fill="#0000ff"/>
<path d="M621.35 24.9L624.45 30.03L618.25 30.03Z" fill="#0000ff"/>
<path d="M639.55 24.8L642.65 29.93L636.45 29.93Z" fill="#0000ff"/>
<polyline points="384.75,30.55 385.66,30.53 386.57,30.51 387.48,30.49 388.39,30.46 389.3,30.44 390.21,30.42 391.12,30.39 392.03,30.37 392.94,30.34 393.85,30.32 394.76,30.29 395.67,30.27 396.58,30.24 397.49,30.21 398.4,30.19 399.31,30.16 400.22,30.13 401.13,30.11 402.04,30.08 402.95,30.05 403.86,30.02 404.77,30 405.68,29.97 406.59,29.94 407.5,29.91 408.41,29.89 409.32,29.86 410.23,29.83 411.14,29.81 412.05,29.78 412.96,29.76 413.87,29.73 414.78,29.71 415.69,29.68 416.6,29.66 417.51,29.64 418.42,29.61 419.33,29.59 420.24,29.57 421.15,29.55 422.06,29.53 422.97,29.51 423.88,29.49 424.79,29.48 425.7,29.46 426.61,29.44 427.52,29.43 428.43,29.42 429.34,29.4 430.25,29.39 431.16,29.38 432.07,29.37 432.98,29.36 433.89,29.35 434.8,29.34 435.71,29.33 436.62,29.32 437.53,29.32 438.44,29.31 439.35,29.3 440.26,29.29 441.17,29.28 442.08,29.27 442.99,29.26 443.9,29.25 444.81,29.24 445.72,29.23 446.63,29.22 447.54,29.2 448.45,29.19 449.36,29.18 450.27,29.17 451.18,29.15 452.09,29.14 453,29.12 453.91,29.11 454.82,29.09 455.73,29.08 456.64,29.06 457.55,29.05 458.46,29.04 459.37,29.02 460.28,29.01 461.19,28.99 462.1,28.98 463.01,28.97 463.92,28.95 464.83,28.94 465.74,28.93 466.65,28.92 467.56,28.9 468.47,28.89 469.38,28.88 470.29,28.87 471.2,28.86 472.11,28.85 473.02,28.83 473.93,28.82 474.84,28.81 475.75,28.8 476.66,28.79 477.57,28.78 478.48,28.76 479.39,28.75 480.3,28.74 481.21,28.73 482.12,28.71 483.03,28.7 483.94,28.69 484.85,28.67 485.76,28.66 486.67,28.65 487.58,28.63 488.49,28.62 489.4,28.61 490.31,28.59 491.22,28.58 492.13,28.57 493.04,28.56 493.95,28.55 494.86,28.54 495.77,28.53 496.68,28.52 497.59,28.52 498.5,28.51 499.41,28.51 500.32,28.5 501.23,28.5 502.14,28.5 503.05,28.49 503.96,28.49 504.87,28.49 505.78,28.49 506.69,28.49 507.6,28.49 508.51,28.5 509.42,28.5 510.33,28.5 511.24,28.5 512.15,28.5 513.06,28.5 513.97,28.5 514.88,28.5 515.79,28.5 516.7,28.49 517.61,28.49 518.52,28.49 519.43,28.48 520.34,28.48 521.25,28.47 522.16,28.47 523.07,28.46 523.98,28.46 524.89,28.45 525.8,28.44 526.71,28.43 527.62,28.42 528.53,28.42 529.44,28.41 530.35,28.4 531.26,28.39 532.17,28.38 533.08,28.38 533.99,28.37 534.9,28.36 535.81,28.36 536.72,28.35 537.63,28.35 538.54,28.34 539.45,28.34 540.36,28.33 541.27,28.33 542.18,28.32 543.09,28.32 544,28.32 544.91,28.31 545.82,28.31 546.73,28.31 547.64,28.3 548.55,28.3 549.46,28.3 550.37,28.29 551.28,28.29 552.19,28.28 553.1,28.28 554.01,28.28 554.92,28.27 555.83,28.27 556.74,28.26 557.65,28.26 558.56,28.25 559.47,28.25 560.38,28.24 561.29,28.23 562.2,28.23 563.11,28.22 564.02,28.22 564.93,28.21 565.84,28.21 566.75,28.2 567.66,28.19 568.57,28.19 569.48,28.18 570.39,28.18 571.3,28.17 572.21,28.17 573.12,28.16 574.03,28.16 574.94,28.15 575.85,28.15 576.76,28.14 577.67,28.14 578.58,28.13 579.49,28.13 580.4,28.12 581.31,28.12 582.22,28.11 583.13,28.11 584.04,28.1 584.95,28.1 585.86,28.1 586.77,28.09 587.68,28.09 588.59,28.08 589.5,28.08 590.41,28.07 591.32,28.07 592.23,28.06 593.14,28.06 594.05,28.05 594.96,28.05 595.87,28.04 596.78,28.04 597.69,28.03 598.6,28.03 599.51,28.02 600.42,28.02 601.33,28.01 602.24,28.01 603.15,28 604.06,27.99 604.97,27.99 605.88,27.98 606.79,27.98 607.7,27.97 608.61,27.97 609.52,27.96 610.43,27.96 611.34,27.95 612.25,27.95 613.16,27.94 614.07,27.94 614.98,27.93 615.89,27.93 616.8,27.92 617.71,27.92 618.62,27.91 619.53,27.91 620.44,27.9 621.35,27.9 622.26,27.9 623.17,27.89 624.08,27.89 624.99,27.88 625.9,27.88 626.81,27.87 627.72,27.87 628.63,27.86 629.54,27.86 630.45,27.85 631.36,27.85 632.27,27.84 633.18,27.84 634.09,27.83 635,27.83 635.91,27.82 636.82,27.82 637.73,27.81 638.64,27.81 639.55,27.8" fill="none" stroke="#ff00ff" stroke-width="1.1" stroke-linejoin="round"/>
<path d="M384.75 27.3L387.7 30.55L384.75 33.8L381.8 30.55Z" fill="#ff00ff"/>
<path d="M402.95 26.8L405.9 30.05L402.95 33.3L400 30.05Z" fill="#ff00ff"/>
<path d="M421.15 26.3L424.1 29.55L421.15 32.8L418.2 29.55Z" fill="#ff00ff"/>
<path d="M439.35 26.05L442.3 29.3L439.35 32.55L436.4 29.3Z" fill="#ff00ff"/>
<path d="M457.55 25.8L460.5 29.05L457.55 32.3L454.6 29.05Z" fill="#ff00ff"/>
<path d="M475.75 25.55L478.7 28.8L475.75 32.05L472.8 28.8Z" fill="#ff00ff"/>
<path d="M493.95 25.3L496.9 28.55L493.95 31.8L491 28.55Z" fill="#ff00ff"/>
<path d="M512.15 25.25L515.1 28.5L512.15 31.75L509.2 28.5Z" fill="#ff00ff"/>
<path d="M530.35 25.15L533.3 28.4L530.35 31.65L527.4 28.4Z" fill="#ff00ff"/>
<path d="M548.55 25.05L551.5 28.3L548.55 31.55L545.6 28.3Z" fill="#ff00ff"/>
<path d="M566.75 24.95L569.7 28.2L566.75 31.45L563.8 28.2Z" fill="#ff00ff"/>
<path d="M584.95 24.85L587.9 28.1L584.95 31.35L582 28.1Z" fill="#ff00ff"/>
<path d="M603.15 24.75L606.1 28L603.15 31.25L600.2 28Z" fill="#ff00ff"/>
<path d="M621.35 24.65L624.3 27.9L621.35 31.15L618.4 27.9Z" fill="#ff00ff"/>
<path d="M639.55 24.55L642.5 27.8L639.55 31.05L636.6 27.8Z" fill="#ff00ff"/>
<polyline points="90.5,388.05 91.39,386.01 92.28,383.93 93.17,381.8 94.06,379.62 94.94,377.41 95.83,375.16 96.72,372.87 97.61,370.54 98.5,368.19 99.39,365.81 100.28,363.4 101.17,360.98 102.06,358.54 102.95,356.1 103.83,353.67 104.72,351.24 105.61,348.82 106.5,346.44 107.39,344.09 108.28,341.8 109.17,339.57 110.06,337.4 110.95,335.3 111.84,333.28 112.72,331.32 113.61,329.44 114.5,327.63 115.39,325.9 116.28,324.25 117.17,322.66 118.06,321.15 118.95,319.71 119.84,318.33 120.73,317.02 121.62,315.76 122.5,314.56 123.39,313.39 124.28,312.26 125.17,311.15 126.06,310.05 126.95,308.94 127.84,307.83 128.73,306.72 129.62,305.59 130.5,304.47 131.39,303.34 132.28,302.21 133.17,301.08 134.06,299.95 134.95,298.83 135.84,297.71 136.73,296.59 137.62,295.48 138.51,294.38 139.4,293.28 140.28,292.2 141.17,291.14 142.06,290.09 142.95,289.06 143.84,288.05 144.73,287.06 145.62,286.1 146.51,285.17 147.4,284.26 148.28,283.38 149.17,282.53 150.06,281.71 150.95,280.91 151.84,280.15 152.73,279.41 153.62,278.7 154.51,278.02 155.4,277.36 156.29,276.73 157.18,276.12 158.06,275.53 158.95,274.95 159.84,274.4 160.73,273.85 161.62,273.3 162.51,272.75 163.4,272.21 164.29,271.66 165.18,271.11 166.06,270.57 166.95,270.02 167.84,269.47 168.73,268.93 169.62,268.39 170.51,267.85 171.4,267.32 172.29,266.79 173.18,266.27 174.07,265.75 174.96,265.24 175.84,264.73 176.73,264.24 177.62,263.75 178.51,263.27 179.4,262.8 180.29,262.34 181.18,261.9 182.07,261.46 182.96,261.04 183.84,260.64 184.73,260.24 185.62,259.86 186.51,259.49 187.4,259.14 188.29,258.8 189.18,258.48 190.07,258.16 190.96,257.86 191.85,257.58 192.74,257.3 193.62,257.03 194.51,256.78 195.4,256.53 196.29,256.29 197.18,256.05 198.07,255.81 198.96,255.58 199.85,255.35 200.74,255.11 201.62,254.89 202.51,254.66 203.4,254.44 204.29,254.21 205.18,254 206.07,253.78 206.96,253.57 207.85,253.36 208.74,253.15 209.63,252.95 210.52,252.75 211.4,252.55 212.29,252.36 213.18,252.17 214.07,251.98 214.96,251.8 215.85,251.62 216.74,251.44 217.63,251.26 218.52,251.09 219.41,250.92 220.29,250.75 221.18,250.59 222.07,250.43 222.96,250.27 223.85,250.12 224.74,249.97 225.63,249.83 226.52,249.68 227.41,249.55 228.3,249.41 229.18,249.28 230.07,249.16 230.96,249.04 231.85,248.92 232.74,248.8 233.63,248.69 234.52,248.57 235.41,248.47 236.3,248.36 237.19,248.26 238.07,248.16 238.96,248.06 239.85,247.97 240.74,247.88 241.63,247.79 242.52,247.7 243.41,247.62 244.3,247.54 245.19,247.47 246.08,247.39 246.96,247.32 247.85,247.25 248.74,247.18 249.63,247.12 250.52,247.05 251.41,246.98 252.3,246.92 253.19,246.85 254.08,246.79 254.97,246.72 255.85,246.66 256.74,246.6 257.63,246.53 258.52,246.47 259.41,246.41 260.3,246.35 261.19,246.28 262.08,246.22 262.97,246.16 263.86,246.1 264.74,246.04 265.63,245.98 266.52,245.92 267.41,245.86 268.3,245.8 269.19,245.74 270.08,245.68 270.97,245.62 271.86,245.56 272.75,245.5 273.63,245.44 274.52,245.37 275.41,245.31 276.3,245.25 277.19,245.19 278.08,245.13 278.97,245.06 279.86,245 280.75,244.94 281.63,244.88 282.52,244.81 283.41,244.75 284.3,244.68 285.19,244.62 286.08,244.55 286.97,244.48 287.86,244.41 288.75,244.35 289.64,244.28 290.52,244.2 291.41,244.13 292.3,244.06 293.19,243.99 294.08,243.91 294.97,243.84 295.86,243.76 296.75,243.68 297.64,243.61 298.53,243.53 299.42,243.45 300.3,243.37 301.19,243.29 302.08,243.21 302.97,243.13 303.86,243.05 304.75,242.97 305.64,242.89 306.53,242.81 307.42,242.72 308.31,242.64 309.19,242.56 310.08,242.48 310.97,242.4 311.86,242.32 312.75,242.24 313.64,242.17 314.53,242.09 315.42,242.01 316.31,241.94 317.2,241.87 318.08,241.8 318.97,241.73 319.86,241.67 320.75,241.61 321.64,241.55 322.53,241.5 323.42,241.45 324.31,241.4 325.2,241.36 326.08,241.32 326.97,241.28 327.86,241.25 328.75,241.23 329.64,241.21 330.53,241.19 331.42,241.17 332.31,241.17 333.2,241.16 334.09,241.16 334.98,241.16 335.86,241.16 336.75,241.17 337.64,241.18 338.53,241.19 339.42,241.2" fill="none" stroke="#ff0000" stroke-width="1.1" stroke-linejoin="round"/>
<rect x="87.4" y="384.95" width="6.2" height="6.2" fill="#ff0000"/>
<rect x="105.18" y="338.7" width="6.2" height="6.2" fill="#ff0000"/>
<rect x="122.96" y="306.95" width="6.2" height="6.2" fill="#ff0000"/>
<rect x="140.74" y="284.95" width="6.2" height="6.2" fill="#ff0000"/>
<rect x="158.52" y="270.2" width="6.2" height="6.2" fill="#ff0000"/>
<rect x="176.3" y="259.7" width="6.2" height="6.2" fill="#ff0000"/>
<rect x="194.08" y="252.95" width="6.2" height="6.2" fill="#ff0000"/>
<rect x="211.86" y="248.7" width="6.2" height="6.2" fill="#ff0000"/>
<rect x="229.64" y="245.7" width="6.2" height="6.2" fill="#ff0000"/>
<rect x="247.42" y="243.95" width="6.2" height="6.2" fill="#ff0000"/>
<rect x="265.2" y="242.7" width="6.2" height="6.2" fill="#ff0000"/>
<rect x="282.98" y="241.45" width="6.2" height="6.2" fill="#ff0000"/>
<rect x="300.76" y="239.95" width="6.2" height="6.2" fill="#ff0000"/>
<rect x="318.54" y="238.45" width="6.2" height="6.2" fill="#ff0000"/>
<rect x="336.32" y="238.1" width="6.2" height="6.2" fill="#ff0000"/>
<polyline points="90.5,290.3 91.39,289.59 92.28,288.87 93.17,288.14 94.06,287.38 94.94,286.62 95.83,285.84 96.72,285.05 97.61,284.24 98.5,283.43 99.39,282.6 100.28,281.77 101.17,280.93 102.06,280.09 102.95,279.25 103.83,278.4 104.72,277.56 105.61,276.73 106.5,275.91 107.39,275.09 108.28,274.3 109.17,273.53 110.06,272.78 110.95,272.05 111.84,271.35 112.72,270.68 113.61,270.02 114.5,269.4 115.39,268.8 116.28,268.23 117.17,267.68 118.06,267.16 118.95,266.66 119.84,266.18 120.73,265.72 121.62,265.29 122.5,264.87 123.39,264.46 124.28,264.07 125.17,263.68 126.06,263.3 126.95,262.91 127.84,262.52 128.73,262.13 129.62,261.74 130.5,261.35 131.39,260.95 132.28,260.55 133.17,260.15 134.06,259.76 134.95,259.36 135.84,258.96 136.73,258.57 137.62,258.17 138.51,257.78 139.4,257.4 140.28,257.01 141.17,256.64 142.06,256.27 142.95,255.9 143.84,255.55 144.73,255.2 145.62,254.87 146.51,254.54 147.4,254.23 148.28,253.92 149.17,253.63 150.06,253.35 150.95,253.08 151.84,252.81 152.73,252.57 153.62,252.33 154.51,252.1 155.4,251.88 156.29,251.67 157.18,251.47 158.06,251.28 158.95,251.09 159.84,250.91 160.73,250.73 161.62,250.55 162.51,250.37 163.4,250.19 164.29,250.01 165.18,249.83 166.06,249.65 166.95,249.47 167.84,249.29 168.73,249.11 169.62,248.93 170.51,248.75 171.4,248.57 172.29,248.4 173.18,248.22 174.07,248.05 174.96,247.87 175.84,247.7 176.73,247.54 177.62,247.37 178.51,247.21 179.4,247.05 180.29,246.9 181.18,246.75 182.07,246.6 182.96,246.46 183.84,246.32 184.73,246.19 185.62,246.06 186.51,245.94 187.4,245.82 188.29,245.71 189.18,245.6 190.07,245.5 190.96,245.4 191.85,245.3 192.74,245.21 193.62,245.12 194.51,245.04 195.4,244.96 196.29,244.88 197.18,244.8 198.07,244.72 198.96,244.64 199.85,244.57 200.74,244.49 201.62,244.42 202.51,244.34 203.4,244.27 204.29,244.19 205.18,244.12 206.07,244.05 206.96,243.98 207.85,243.91 208.74,243.84 209.63,243.77 210.52,243.71 211.4,243.64 212.29,243.58 213.18,243.52 214.07,243.46 214.96,243.4 215.85,243.34 216.74,243.29 217.63,243.23 218.52,243.18 219.41,243.13 220.29,243.08 221.18,243.03 222.07,242.98 222.96,242.94 223.85,242.9 224.74,242.85 225.63,242.82 226.52,242.78 227.41,242.74 228.3,242.71 229.18,242.67 230.07,242.64 230.96,242.61 231.85,242.58 232.74,242.55 233.63,242.52 234.52,242.49 235.41,242.46 236.3,242.43 237.19,242.41 238.07,242.38 238.96,242.35 239.85,242.32 240.74,242.3 241.63,242.27 242.52,242.25 243.41,242.22 244.3,242.2 245.19,242.18 246.08,242.15 246.96,242.13 247.85,242.11 248.74,242.09 249.63,242.07 250.52,242.05 251.41,242.03 252.3,242.01 253.19,242 254.08,241.98 254.97,241.97 255.85,241.95 256.74,241.94 257.63,241.92 258.52,241.91 259.41,241.9 260.3,241.89 261.19,241.88 262.08,241.87 262.97,241.86 263.86,241.85 264.74,241.84 265.63,241.83 266.52,241.82 267.41,241.81 268.3,241.8 269.19,241.79 270.08,241.78 270.97,241.77 271.86,241.75 272.75,241.74 273.63,241.73 274.52,241.71 275.41,241.7 276.3,241.68 277.19,241.67 278.08,241.65 278.97,241.64 279.86,241.62 280.75,241.6 281.63,241.59 282.52,241.57 283.41,241.55 284.3,241.53 285.19,241.52 286.08,241.5 286.97,241.48 287.86,241.47 288.75,241.45 289.64,241.44 290.52,241.43 291.41,241.41 292.3,241.4 293.19,241.39 294.08,241.38 294.97,241.37 295.86,241.36 296.75,241.35 297.64,241.34 298.53,241.34 299.42,241.33 300.3,241.32 301.19,241.32 302.08,241.31 302.97,241.31 303.86,241.3 304.75,241.29 305.64,241.29 306.53,241.28 307.42,241.28 308.31,241.27 309.19,241.27 310.08,241.26 310.97,241.26 311.86,241.25 312.75,241.25 313.64,241.24 314.53,241.24 315.42,241.23 316.31,241.23 317.2,241.22 318.08,241.22 318.97,241.21 319.86,241.21 320.75,241.2 321.64,241.2 322.53,241.2 323.42,241.19 324.31,241.19 325.2,241.19 326.08,241.19 326.97,241.19 327.86,241.18 328.75,241.18 329.64,241.18 330.53,241.18 331.42,241.18 332.31,241.18 333.2,241.19 334.09,241.19 334.98,241.19 335.86,241.19 336.75,241.19 337.64,241.19 338.53,241.2 339.42,241.2" fill="none" stroke="#006400" stroke-width="1.1" stroke-linejoin="round"/>
<circle cx="90.5" cy="290.3" r="3.3" fill="#006400"/>
<circle cx="108.28" cy="274.3" r="3.3" fill="#006400"/>
<circle cx="126.06" cy="263.3" r="3.3" fill="#006400"/>
<circle cx="143.84" cy="255.55" r="3.3" fill="#006400"/>
<circle cx="161.62" cy="250.55" r="3.3" fill="#006400"/>
<circle cx="179.4" cy="247.05" r="3.3" fill="#006400"/>
<circle cx="197.18" cy="244.8" r="3.3" fill="#006400"/>
<circle cx="214.96" cy="243.4" r="3.3" fill="#006400"/>
<circle cx="232.74" cy="242.55" r="3.3" fill="#006400"/>
<circle cx="250.52" cy="242.05" r="3.3" fill="#006400"/>
<circle cx="268.3" cy="241.8" r="3.3" fill="#006400"/>
<circle cx="286.08" cy="241.5" r="3.3" fill="#006400"/>
<circle cx="303.86" cy="241.3" r="3.3" fill="#006400"/>
<circle cx="321.64" cy="241.2" r="3.3" fill="#006400"/>
<circle cx="339.42" cy="241.2" r="3.3" fill="#006400"/>
<polyline points="90.5,250.55 91.39,250.41 92.28,250.26 93.17,250.11 94.06,249.96 94.94,249.8 95.83,249.64 96.72,249.48 97.61,249.32 98.5,249.16 99.39,248.99 100.28,248.82 101.17,248.65 102.06,248.48 102.95,248.31 103.83,248.14 104.72,247.96 105.61,247.79 106.5,247.63 107.39,247.46 108.28,247.3 109.17,247.14 110.06,246.99 110.95,246.84 111.84,246.7 112.72,246.56 113.61,246.43 114.5,246.3 115.39,246.18 116.28,246.06 117.17,245.95 118.06,245.84 118.95,245.74 119.84,245.64 120.73,245.54 121.62,245.45 122.5,245.37 123.39,245.29 124.28,245.21 125.17,245.13 126.06,245.05 126.95,244.97 127.84,244.89 128.73,244.82 129.62,244.74 130.5,244.66 131.39,244.58 132.28,244.51 133.17,244.43 134.06,244.35 134.95,244.27 135.84,244.2 136.73,244.12 137.62,244.05 138.51,243.97 139.4,243.9 140.28,243.83 141.17,243.76 142.06,243.69 142.95,243.62 143.84,243.55 144.73,243.48 145.62,243.42 146.51,243.36 147.4,243.29 148.28,243.23 149.17,243.18 150.06,243.12 150.95,243.06 151.84,243.01 152.73,242.96 153.62,242.91 154.51,242.86 155.4,242.82 156.29,242.78 157.18,242.73 158.06,242.69 158.95,242.66 159.84,242.62 160.73,242.58 161.62,242.55 162.51,242.52 163.4,242.48 164.29,242.45 165.18,242.42 166.06,242.39 166.95,242.36 167.84,242.34 168.73,242.31 169.62,242.28 170.51,242.26 171.4,242.24 172.29,242.21 173.18,242.19 174.07,242.17 174.96,242.15 175.84,242.13 176.73,242.11 177.62,242.09 178.51,242.07 179.4,242.05 180.29,242.03 181.18,242.01 182.07,241.99 182.96,241.97 183.84,241.94 184.73,241.92 185.62,241.9 186.51,241.88 187.4,241.85 188.29,241.83 189.18,241.81 190.07,241.78 190.96,241.76 191.85,241.73 192.74,241.71 193.62,241.69 194.51,241.66 195.4,241.64 196.29,241.62 197.18,241.6 198.07,241.58 198.96,241.56 199.85,241.54 200.74,241.53 201.62,241.51 202.51,241.5 203.4,241.48 204.29,241.47 205.18,241.46 206.07,241.45 206.96,241.44 207.85,241.44 208.74,241.43 209.63,241.42 210.52,241.42 211.4,241.41 212.29,241.41 213.18,241.41 214.07,241.4 214.96,241.4 215.85,241.4 216.74,241.39 217.63,241.39 218.52,241.39 219.41,241.38 220.29,241.38 221.18,241.37 222.07,241.37 222.96,241.36 223.85,241.36 224.74,241.35 225.63,241.35 226.52,241.34 227.41,241.34 228.3,241.33 229.18,241.32 230.07,241.32 230.96,241.31 231.85,241.31 232.74,241.3 233.63,241.29 234.52,241.29 235.41,241.28 236.3,241.28 237.19,241.27 238.07,241.26 238.96,241.26 239.85,241.25 240.74,241.25 241.63,241.24 242.52,241.24 243.41,241.23 244.3,241.23 245.19,241.22 246.08,241.22 246.96,241.21 247.85,241.21 248.74,241.21 249.63,241.2 250.52,241.2 251.41,241.2 252.3,241.19 253.19,241.19 254.08,241.19 254.97,241.19 255.85,241.19 256.74,241.19 257.63,241.19 258.52,241.19 259.41,241.19 260.3,241.19 261.19,241.19 262.08,241.19 262.97,241.19 263.86,241.19 264.74,241.19 265.63,241.2 266.52,241.2 267.41,241.2 268.3,241.2 269.19,241.2 270.08,241.2 270.97,241.2 271.86,241.2 272.75,241.21 273.63,241.21 274.52,241.21 275.41,241.21 276.3,241.21 277.19,241.21 278.08,241.21 278.97,241.21 279.86,241.21 280.75,241.2 281.63,241.2 282.52,241.2 283.41,241.2 284.3,241.2 285.19,241.2 286.08,241.2 286.97,241.2 287.86,241.2 288.75,241.2 289.64,241.2 290.52,241.2 291.41,241.2 292.3,241.2 293.19,241.2 294.08,241.2 294.97,241.2 295.86,241.2 296.75,241.2 297.64,241.2 298.53,241.2 299.42,241.2 300.3,241.2 301.19,241.2 302.08,241.2 302.97,241.2 303.86,241.2 304.75,241.2 305.64,241.2 306.53,241.2 307.42,241.2 308.31,241.2 309.19,241.2 310.08,241.2 310.97,241.2 311.86,241.2 312.75,241.2 313.64,241.2 314.53,241.2 315.42,241.2 316.31,241.2 317.2,241.2 318.08,241.2 318.97,241.2 319.86,241.2 320.75,241.2 321.64,241.2 322.53,241.2 323.42,241.2 324.31,241.2 325.2,241.2 326.08,241.2 326.97,241.2 327.86,241.2 328.75,241.2 329.64,241.2 330.53,241.2 331.42,241.2 332.31,241.2 333.2,241.2 334.09,241.2 334.98,241.2 335.86,241.2 336.75,241.2 337.64,241.2 338.53,241.2 339.42,241.2" fill="none" stroke="#0000ff" stroke-width="1.1" stroke-linejoin="round"/>
<path d="M90.5 247.55L93.6 252.68L87.4 252.68Z" fill="#0000ff"/>
<path d="M108.28 244.3L111.38 249.43L105.18 249.43Z" fill="#0000ff"/>
<path d="M126.06 242.05L129.16 247.18L122.96 247.18Z" fill="#0000ff"/>
<path d="M143.84 240.55L146.94 245.68L140.74 245.68Z" fill="#0000ff"/>
<path d="M161.62 239.55L164.72 244.68L158.52 244.68Z" fill="#0000ff"/>
<path d="M179.4 239.05L182.5 244.18L176.3 244.18Z" fill="#0000ff"/>
<path d="M197.18 238.6L200.28 243.73L194.08 243.73Z" fill="#0000ff"/>
<path d="M214.96 238.4L218.06 243.53L211.86 243.53Z" fill="#0000ff"/>
<path d="M232.74 238.3L235.84 243.43L229.64 243.43Z" fill="#0000ff"/>
<path d="M250.52 238.2L253.62 243.33L247.42 243.33Z" fill="#0000ff"/>
<path d="M268.3 238.2L271.4 243.33L265.2 243.33Z" fill="#0000ff"/>
<path d="M286.08 238.2L289.18 243.33L282.98 243.33Z" fill="#0000ff"/>
<path d="M303.86 238.2L306.96 243.33L300.76 243.33Z" fill="#0000ff"/>
<path d="M321.64 238.2L324.74 243.33L318.54 243.33Z" fill="#0000ff"/>
<path d="M339.42 238.2L342.52 243.33L336.32 243.33Z" fill="#0000ff"/>
<polyline points="90.5,242.3 91.39,242.28 92.28,242.25 93.17,242.23 94.06,242.21 94.94,242.18 95.83,242.16 96.72,242.13 97.61,242.11 98.5,242.08 99.39,242.05 100.28,242.03 101.17,242 102.06,241.98 102.95,241.95 103.83,241.92 104.72,241.9 105.61,241.87 106.5,241.85 107.39,241.82 108.28,241.8 109.17,241.78 110.06,241.76 110.95,241.74 111.84,241.72 112.72,241.7 113.61,241.68 114.5,241.67 115.39,241.66 116.28,241.64 117.17,241.63 118.06,241.62 118.95,241.61 119.84,241.6 120.73,241.59 121.62,241.58 122.5,241.58 123.39,241.57 124.28,241.56 125.17,241.56 126.06,241.55 126.95,241.54 127.84,241.53 128.73,241.52 129.62,241.51 130.5,241.5 131.39,241.49 132.28,241.48 133.17,241.47 134.06,241.46 134.95,241.44 135.84,241.43 136.73,241.42 137.62,241.4 138.51,241.39 139.4,241.37 140.28,241.36 141.17,241.34 142.06,241.33 142.95,241.31 143.84,241.3 144.73,241.29 145.62,241.28 146.51,241.26 147.4,241.25 148.28,241.24 149.17,241.24 150.06,241.23 150.95,241.22 151.84,241.22 152.73,241.21 153.62,241.21 154.51,241.2 155.4,241.2 156.29,241.2 157.18,241.2 158.06,241.2 158.95,241.2 159.84,241.2 160.73,241.2 161.62,241.2 162.51,241.2 163.4,241.2 164.29,241.2 165.18,241.2 166.06,241.2 166.95,241.2 167.84,241.2 168.73,241.2 169.62,241.2 170.51,241.2 171.4,241.2 172.29,241.2 173.18,241.2 174.07,241.2 174.96,241.2 175.84,241.2 176.73,241.2 177.62,241.2 178.51,241.2 179.4,241.2 180.29,241.2 181.18,241.2 182.07,241.2 182.96,241.2 183.84,241.2 184.73,241.2 185.62,241.2 186.51,241.2 187.4,241.2 188.29,241.2 189.18,241.2 190.07,241.2 190.96,241.2 191.85,241.2 192.74,241.2 193.62,241.2 194.51,241.2 195.4,241.2 196.29,241.2 197.18,241.2 198.07,241.2 198.96,241.2 199.85,241.2 200.74,241.2 201.62,241.2 202.51,241.2 203.4,241.2 204.29,241.2 205.18,241.2 206.07,241.2 206.96,241.2 207.85,241.2 208.74,241.2 209.63,241.2 210.52,241.2 211.4,241.2 212.29,241.2 213.18,241.2 214.07,241.2 214.96,241.2 215.85,241.2 216.74,241.2 217.63,241.2 218.52,241.2 219.41,241.2 220.29,241.2 221.18,241.2 222.07,241.2 222.96,241.2 223.85,241.2 224.74,241.2 225.63,241.2 226.52,241.2 227.41,241.2 228.3,241.2 229.18,241.2 230.07,241.2 230.96,241.2 231.85,241.2 232.74,241.2 233.63,241.2 234.52,241.2 235.41,241.2 236.3,241.2 237.19,241.2 238.07,241.2 238.96,241.2 239.85,241.2 240.74,241.2 241.63,241.2 242.52,241.2 243.41,241.2 244.3,241.2 245.19,241.2 246.08,241.2 246.96,241.2 247.85,241.2 248.74,241.2 249.63,241.2 250.52,241.2 251.41,241.2 252.3,241.2 253.19,241.2 254.08,241.2 254.97,241.2 255.85,241.2 256.74,241.2 257.63,241.2 258.52,241.2 259.41,241.2 260.3,241.2 261.19,241.2 262.08,241.2 262.97,241.2 263.86,241.2 264.74,241.2 265.63,241.2 266.52,241.2 267.41,241.2 268.3,241.2 269.19,241.2 270.08,241.2 270.97,241.2 271.86,241.2 272.75,241.2 273.63,241.2 274.52,241.2 275.41,241.2 276.3,241.2 277.19,241.2 278.08,241.2 278.97,241.2 279.86,241.2 280.75,241.2 281.63,241.2 282.52,241.2 283.41,241.2 284.3,241.2 285.19,241.2 286.08,241.2 286.97,241.2 287.86,241.2 288.75,241.2 289.64,241.2 290.52,241.2 291.41,241.2 292.3,241.2 293.19,241.2 294.08,241.2 294.97,241.2 295.86,241.2 296.75,241.2 297.64,241.2 298.53,241.2 299.42,241.2 300.3,241.2 301.19,241.2 302.08,241.2 302.97,241.2 303.86,241.2 304.75,241.2 305.64,241.2 306.53,241.2 307.42,241.2 308.31,241.2 309.19,241.2 310.08,241.2 310.97,241.2 311.86,241.2 312.75,241.2 313.64,241.2 314.53,241.2 315.42,241.2 316.31,241.2 317.2,241.2 318.08,241.2 318.97,241.2 319.86,241.2 320.75,241.2 321.64,241.2 322.53,241.2 323.42,241.2 324.31,241.2 325.2,241.2 326.08,241.2 326.97,241.2 327.86,241.2 328.75,241.2 329.64,241.2 330.53,241.2 331.42,241.2 332.31,241.2 333.2,241.2 334.09,241.2 334.98,241.2 335.86,241.2 336.75,241.2 337.64,241.2 338.53,241.2 339.42,241.2" fill="none" stroke="#ff00ff" stroke-width="1.1" stroke-linejoin="round"/>
<path d="M90.5 239.05L93.45 242.3L90.5 245.55L87.55 242.3Z" fill="#ff00ff"/>
<path d="M108.28 238.55L111.23 241.8L108.28 245.05L105.33 241.8Z" fill="#ff00ff"/>
<path d="M126.06 238.3L129.01 241.55L126.06 244.8L123.11 241.55Z" fill="#ff00ff"/>
<path d="M143.84 238.05L146.79 241.3L143.84 244.55L140.89 241.3Z" fill="#ff00ff"/>
<path d="M161.62 237.95L164.57 241.2L161.62 244.45L158.67 241.2Z" fill="#ff00ff"/>
<path d="M179.4 237.95L182.35 241.2L179.4 244.45L176.45 241.2Z" fill="#ff00ff"/>
<path d="M197.18 237.95L200.13 241.2L197.18 244.45L194.23 241.2Z" fill="#ff00ff"/>
<path d="M214.96 237.95L217.91 241.2L214.96 244.45L212.01 241.2Z" fill="#ff00ff"/>
<path d="M232.74 237.95L235.69 241.2L232.74 244.45L229.79 241.2Z" fill="#ff00ff"/>
<path d="M250.52 237.95L253.47 241.2L250.52 244.45L247.57 241.2Z" fill="#ff00ff"/>
<path d="M268.3 237.95L271.25 241.2L268.3 244.45L265.35 241.2Z" fill="#ff00ff"/>
<path d="M286.08 237.95L289.03 241.2L286.08 244.45L283.13 241.2Z" fill="#ff00ff"/>
<path d="M303.86 237.95L306.81 241.2L303.86 244.45L300.91 241.2Z" fill="#ff00ff"/>
<path d="M321.64 237.95L324.59 241.2L321.64 244.45L318.69 241.2Z" fill="#ff00ff"/>
<path d="M339.42 237.95L342.37 241.2L339.42 244.45L336.47 241.2Z" fill="#ff00ff"/>
<polyline points="384.75,401.3 385.66,399.11 386.57,396.87 387.48,394.58 388.39,392.25 389.3,389.87 390.21,387.45 391.12,384.98 392.03,382.49 392.94,379.96 393.85,377.39 394.76,374.81 395.67,372.21 396.58,369.59 397.49,366.96 398.4,364.34 399.31,361.72 400.22,359.12 401.13,356.55 402.04,354.03 402.95,351.55 403.86,349.14 404.77,346.8 405.68,344.53 406.59,342.34 407.5,340.22 408.41,338.18 409.32,336.22 410.23,334.33 411.14,332.53 412.05,330.81 412.96,329.16 413.87,327.58 414.78,326.08 415.69,324.65 416.6,323.28 417.51,321.96 418.42,320.69 419.33,319.45 420.24,318.25 421.15,317.05 422.06,315.85 422.97,314.66 423.88,313.46 424.79,312.25 425.7,311.05 426.61,309.85 427.52,308.66 428.43,307.46 429.34,306.27 430.25,305.09 431.16,303.91 432.07,302.74 432.98,301.58 433.89,300.43 434.8,299.28 435.71,298.16 436.62,297.04 437.53,295.94 438.44,294.86 439.35,293.8 440.26,292.76 441.17,291.73 442.08,290.73 442.99,289.75 443.9,288.8 444.81,287.86 445.72,286.96 446.63,286.07 447.54,285.21 448.45,284.38 449.36,283.58 450.27,282.79 451.18,282.04 452.09,281.3 453,280.59 453.91,279.9 454.82,279.23 455.73,278.58 456.64,277.93 457.55,277.3 458.46,276.67 459.37,276.05 460.28,275.44 461.19,274.83 462.1,274.23 463.01,273.64 463.92,273.06 464.83,272.48 465.74,271.91 466.65,271.36 467.56,270.81 468.47,270.27 469.38,269.74 470.29,269.22 471.2,268.72 472.11,268.22 473.02,267.73 473.93,267.24 474.84,266.77 475.75,266.3 476.66,265.84 477.57,265.38 478.48,264.93 479.39,264.49 480.3,264.06 481.21,263.63 482.12,263.21 483.03,262.8 483.94,262.4 484.85,262.01 485.76,261.62 486.67,261.25 487.58,260.88 488.49,260.52 489.4,260.17 490.31,259.83 491.22,259.5 492.13,259.18 493.04,258.86 493.95,258.55 494.86,258.24 495.77,257.94 496.68,257.65 497.59,257.36 498.5,257.07 499.41,256.8 500.32,256.52 501.23,256.26 502.14,256 503.05,255.75 503.96,255.5 504.87,255.26 505.78,255.03 506.69,254.8 507.6,254.58 508.51,254.37 509.42,254.16 510.33,253.95 511.24,253.75 512.15,253.55 513.06,253.35 513.97,253.15 514.88,252.96 515.79,252.77 516.7,252.58 517.61,252.39 518.52,252.2 519.43,252.02 520.34,251.84 521.25,251.66 522.16,251.48 523.07,251.31 523.98,251.14 524.89,250.98 525.8,250.81 526.71,250.65 527.62,250.5 528.53,250.35 529.44,250.2 530.35,250.05 531.26,249.91 532.17,249.77 533.08,249.63 533.99,249.49 534.9,249.36 535.81,249.23 536.72,249.11 537.63,248.99 538.54,248.87 539.45,248.76 540.36,248.65 541.27,248.54 542.18,248.44 543.09,248.34 544,248.24 544.91,248.15 545.82,248.06 546.73,247.97 547.64,247.88 548.55,247.8 549.46,247.72 550.37,247.63 551.28,247.55 552.19,247.47 553.1,247.39 554.01,247.31 554.92,247.23 555.83,247.16 556.74,247.08 557.65,247.01 558.56,246.93 559.47,246.86 560.38,246.79 561.29,246.72 562.2,246.65 563.11,246.58 564.02,246.51 564.93,246.44 565.84,246.37 566.75,246.3 567.66,246.23 568.57,246.16 569.48,246.09 570.39,246.02 571.3,245.95 572.21,245.87 573.12,245.8 574.03,245.73 574.94,245.65 575.85,245.58 576.76,245.5 577.67,245.43 578.58,245.35 579.49,245.27 580.4,245.2 581.31,245.12 582.22,245.04 583.13,244.96 584.04,244.88 584.95,244.8 585.86,244.72 586.77,244.64 587.68,244.55 588.59,244.47 589.5,244.38 590.41,244.3 591.32,244.21 592.23,244.12 593.14,244.03 594.05,243.95 594.96,243.86 595.87,243.77 596.78,243.68 597.69,243.59 598.6,243.5 599.51,243.41 600.42,243.32 601.33,243.23 602.24,243.14 603.15,243.05 604.06,242.96 604.97,242.87 605.88,242.79 606.79,242.7 607.7,242.62 608.61,242.53 609.52,242.45 610.43,242.37 611.34,242.29 612.25,242.21 613.16,242.13 614.07,242.06 614.98,241.99 615.89,241.92 616.8,241.85 617.71,241.78 618.62,241.72 619.53,241.66 620.44,241.6 621.35,241.55 622.26,241.5 623.17,241.45 624.08,241.41 624.99,241.37 625.9,241.33 626.81,241.3 627.72,241.27 628.63,241.25 629.54,241.23 630.45,241.21 631.36,241.19 632.27,241.18 633.18,241.18 634.09,241.17 635,241.17 635.91,241.17 636.82,241.18 637.73,241.18 638.64,241.19 639.55,241.2" fill="none" stroke="#ff0000" stroke-width="1.1" stroke-linejoin="round"/>
<rect x="381.65" y="398.2" width="6.2" height="6.2" fill="#ff0000"/>
<rect x="399.85" y="348.45" width="6.2" height="6.2" fill="#ff0000"/>
<rect x="418.05" y="313.95" width="6.2" height="6.2" fill="#ff0000"/>
<rect x="436.25" y="290.7" width="6.2" height="6.2" fill="#ff0000"/>
<rect x="454.45" y="274.2" width="6.2" height="6.2" fill="#ff0000"/>
<rect x="472.65" y="263.2" width="6.2" height="6.2" fill="#ff0000"/>
<rect x="490.85" y="255.45" width="6.2" height="6.2" fill="#ff0000"/>
<rect x="509.05" y="250.45" width="6.2" height="6.2" fill="#ff0000"/>
<rect x="527.25" y="246.95" width="6.2" height="6.2" fill="#ff0000"/>
<rect x="545.45" y="244.7" width="6.2" height="6.2" fill="#ff0000"/>
<rect x="563.65" y="243.2" width="6.2" height="6.2" fill="#ff0000"/>
<rect x="581.85" y="241.7" width="6.2" height="6.2" fill="#ff0000"/>
<rect x="600.05" y="239.95" width="6.2" height="6.2" fill="#ff0000"/>
<rect x="618.25" y="238.45" width="6.2" height="6.2" fill="#ff0000"/>
<rect x="636.45" y="238.1" width="6.2" height="6.2" fill="#ff0000"/>
<polyline points="384.75,301.05 385.66,300.21 386.57,299.36 387.48,298.48 388.39,297.59 389.3,296.68 390.21,295.75 391.12,294.81 392.03,293.86 392.94,292.89 393.85,291.91 394.76,290.92 395.67,289.93 396.58,288.93 397.49,287.93 398.4,286.92 399.31,285.93 400.22,284.94 401.13,283.96 402.04,282.99 402.95,282.05 403.86,281.13 404.77,280.24 405.68,279.38 406.59,278.55 407.5,277.75 408.41,276.97 409.32,276.23 410.23,275.52 411.14,274.84 412.05,274.19 412.96,273.57 413.87,272.98 414.78,272.42 415.69,271.88 416.6,271.37 417.51,270.88 418.42,270.41 419.33,269.95 420.24,269.5 421.15,269.05 422.06,268.6 422.97,268.16 423.88,267.71 424.79,267.26 425.7,266.81 426.61,266.35 427.52,265.9 428.43,265.45 429.34,265.01 430.25,264.56 431.16,264.11 432.07,263.67 432.98,263.23 433.89,262.8 434.8,262.37 435.71,261.94 436.62,261.52 437.53,261.11 438.44,260.7 439.35,260.3 440.26,259.91 441.17,259.53 442.08,259.16 442.99,258.79 443.9,258.44 444.81,258.1 445.72,257.76 446.63,257.44 447.54,257.13 448.45,256.83 449.36,256.54 450.27,256.26 451.18,255.99 452.09,255.73 453,255.47 453.91,255.23 454.82,254.99 455.73,254.76 456.64,254.53 457.55,254.3 458.46,254.07 459.37,253.85 460.28,253.62 461.19,253.4 462.1,253.17 463.01,252.95 463.92,252.73 464.83,252.51 465.74,252.29 466.65,252.08 467.56,251.86 468.47,251.65 469.38,251.44 470.29,251.23 471.2,251.03 472.11,250.83 473.02,250.63 473.93,250.43 474.84,250.24 475.75,250.05 476.66,249.86 477.57,249.68 478.48,249.5 479.39,249.33 480.3,249.16 481.21,248.99 482.12,248.82 483.03,248.67 483.94,248.51 484.85,248.36 485.76,248.21 486.67,248.07 487.58,247.93 488.49,247.8 489.4,247.67 490.31,247.54 491.22,247.41 492.13,247.29 493.04,247.17 493.95,247.05 494.86,246.93 495.77,246.81 496.68,246.7 497.59,246.58 498.5,246.46 499.41,246.35 500.32,246.23 501.23,246.12 502.14,246.01 503.05,245.9 503.96,245.79 504.87,245.69 505.78,245.58 506.69,245.48 507.6,245.38 508.51,245.28 509.42,245.18 510.33,245.08 511.24,244.99 512.15,244.9 513.06,244.81 513.97,244.72 514.88,244.64 515.79,244.56 516.7,244.48 517.61,244.4 518.52,244.33 519.43,244.25 520.34,244.18 521.25,244.12 522.16,244.05 523.07,243.99 523.98,243.93 524.89,243.87 525.8,243.81 526.71,243.76 527.62,243.71 528.53,243.65 529.44,243.6 530.35,243.55 531.26,243.5 532.17,243.45 533.08,243.39 533.99,243.34 534.9,243.29 535.81,243.24 536.72,243.19 537.63,243.13 538.54,243.08 539.45,243.03 540.36,242.98 541.27,242.93 542.18,242.88 543.09,242.83 544,242.78 544.91,242.73 545.82,242.68 546.73,242.64 547.64,242.59 548.55,242.55 549.46,242.51 550.37,242.47 551.28,242.43 552.19,242.4 553.1,242.36 554.01,242.33 554.92,242.3 555.83,242.27 556.74,242.24 557.65,242.22 558.56,242.2 559.47,242.18 560.38,242.16 561.29,242.14 562.2,242.12 563.11,242.11 564.02,242.09 564.93,242.08 565.84,242.06 566.75,242.05 567.66,242.04 568.57,242.02 569.48,242.01 570.39,241.99 571.3,241.97 572.21,241.96 573.12,241.94 574.03,241.92 574.94,241.91 575.85,241.89 576.76,241.87 577.67,241.85 578.58,241.83 579.49,241.81 580.4,241.8 581.31,241.78 582.22,241.76 583.13,241.74 584.04,241.72 584.95,241.7 585.86,241.68 586.77,241.66 587.68,241.65 588.59,241.63 589.5,241.61 590.41,241.59 591.32,241.58 592.23,241.56 593.14,241.55 594.05,241.53 594.96,241.52 595.87,241.5 596.78,241.49 597.69,241.47 598.6,241.46 599.51,241.45 600.42,241.44 601.33,241.42 602.24,241.41 603.15,241.4 604.06,241.39 604.97,241.38 605.88,241.36 606.79,241.35 607.7,241.34 608.61,241.33 609.52,241.32 610.43,241.31 611.34,241.3 612.25,241.29 613.16,241.28 614.07,241.27 614.98,241.26 615.89,241.25 616.8,241.24 617.71,241.23 618.62,241.22 619.53,241.21 620.44,241.21 621.35,241.2 622.26,241.19 623.17,241.19 624.08,241.18 624.99,241.18 625.9,241.18 626.81,241.17 627.72,241.17 628.63,241.17 629.54,241.17 630.45,241.17 631.36,241.17 632.27,241.17 633.18,241.17 634.09,241.18 635,241.18 635.91,241.18 636.82,241.19 637.73,241.19 638.64,241.2 639.55,241.2" fill="none" stroke="#006400" stroke-width="1.1" stroke-linejoin="round"/>
<circle cx="384.75" cy="301.05" r="3.3" fill="#006400"/>
<circle cx="402.95" cy="282.05" r="3.3" fill="#006400"/>
<circle cx="421.15" cy="269.05" r="3.3" fill="#006400"/>
<circle cx="439.35" cy="260.3" r="3.3" fill="#006400"/>
<circle cx="457.55" cy="254.3" r="3.3" fill="#006400"/>
<circle cx="475.75" cy="250.05" r="3.3" fill="#006400"/>
<circle cx="493.95" cy="247.05" r="3.3" fill="#006400"/>
<circle cx="512.15" cy="244.9" r="3.3" fill="#006400"/>
<circle cx="530.35" cy="243.55" r="3.3" fill="#006400"/>
<circle cx="548.55" cy="242.55" r="3.3" fill="#006400"/>
<circle cx="566.75" cy="242.05" r="3.3" fill="#006400"/>
<circle cx="584.95" cy="241.7" r="3.3" fill="#006400"/>
<circle cx="603.15" cy="241.4" r="3.3" fill="#006400"/>
<circle cx="621.35" cy="241.2" r="3.3" fill="#006400"/>
<circle cx="639.55" cy="241.2" r="3.3" fill="#006400"/>
<polyline points="384.75,255.3 385.66,255.13 386.57,254.95 387.48,254.77 388.39,254.59 389.3,254.4 390.21,254.21 391.12,254.02 392.03,253.82 392.94,253.62 393.85,253.41 394.76,253.21 395.67,253 396.58,252.79 397.49,252.58 398.4,252.36 399.31,252.15 400.22,251.94 401.13,251.72 402.04,251.51 402.95,251.3 403.86,251.09 404.77,250.89 405.68,250.69 406.59,250.49 407.5,250.29 408.41,250.1 409.32,249.91 410.23,249.73 411.14,249.55 412.05,249.37 412.96,249.2 413.87,249.03 414.78,248.86 415.69,248.7 416.6,248.55 417.51,248.39 418.42,248.24 419.33,248.09 420.24,247.94 421.15,247.8 422.06,247.66 422.97,247.51 423.88,247.37 424.79,247.23 425.7,247.1 426.61,246.96 427.52,246.83 428.43,246.7 429.34,246.57 430.25,246.44 431.16,246.31 432.07,246.19 432.98,246.07 433.89,245.95 434.8,245.84 435.71,245.72 436.62,245.61 437.53,245.51 438.44,245.4 439.35,245.3 440.26,245.2 441.17,245.1 442.08,245.01 442.99,244.92 443.9,244.83 444.81,244.74 445.72,244.65 446.63,244.57 447.54,244.5 448.45,244.42 449.36,244.35 450.27,244.28 451.18,244.21 452.09,244.15 453,244.08 453.91,244.02 454.82,243.97 455.73,243.91 456.64,243.85 457.55,243.8 458.46,243.75 459.37,243.69 460.28,243.64 461.19,243.58 462.1,243.53 463.01,243.48 463.92,243.43 464.83,243.38 465.74,243.32 466.65,243.27 467.56,243.22 468.47,243.17 469.38,243.13 470.29,243.08 471.2,243.03 472.11,242.98 473.02,242.94 473.93,242.89 474.84,242.84 475.75,242.8 476.66,242.76 477.57,242.71 478.48,242.67 479.39,242.63 480.3,242.58 481.21,242.54 482.12,242.5 483.03,242.46 483.94,242.42 484.85,242.39 485.76,242.35 486.67,242.31 487.58,242.28 488.49,242.24 489.4,242.21 490.31,242.17 491.22,242.14 492.13,242.11 493.04,242.08 493.95,242.05 494.86,242.02 495.77,241.99 496.68,241.96 497.59,241.94 498.5,241.91 499.41,241.88 500.32,241.86 501.23,241.83 502.14,241.81 503.05,241.79 503.96,241.76 504.87,241.74 505.78,241.72 506.69,241.7 507.6,241.68 508.51,241.67 509.42,241.65 510.33,241.63 511.24,241.62 512.15,241.6 513.06,241.59 513.97,241.57 514.88,241.56 515.79,241.54 516.7,241.53 517.61,241.52 518.52,241.51 519.43,241.5 520.34,241.48 521.25,241.47 522.16,241.46 523.07,241.46 523.98,241.45 524.89,241.44 525.8,241.43 526.71,241.42 527.62,241.42 528.53,241.41 529.44,241.41 530.35,241.4 531.26,241.39 532.17,241.39 533.08,241.38 533.99,241.38 534.9,241.37 535.81,241.37 536.72,241.36 537.63,241.36 538.54,241.35 539.45,241.35 540.36,241.34 541.27,241.34 542.18,241.33 543.09,241.33 544,241.32 544.91,241.32 545.82,241.31 546.73,241.31 547.64,241.3 548.55,241.3 549.46,241.3 550.37,241.29 551.28,241.29 552.19,241.28 553.1,241.28 554.01,241.27 554.92,241.26 555.83,241.26 556.74,241.25 557.65,241.25 558.56,241.24 559.47,241.24 560.38,241.23 561.29,241.23 562.2,241.22 563.11,241.22 564.02,241.21 564.93,241.21 565.84,241.2 566.75,241.2 567.66,241.2 568.57,241.19 569.48,241.19 570.39,241.19 571.3,241.19 572.21,241.19 573.12,241.18 574.03,241.18 574.94,241.18 575.85,241.18 576.76,241.18 577.67,241.19 578.58,241.19 579.49,241.19 580.4,241.19 581.31,241.19 582.22,241.19 583.13,241.2 584.04,241.2 584.95,241.2 585.86,241.2 586.77,241.2 587.68,241.2 588.59,241.21 589.5,241.21 590.41,241.21 591.32,241.21 592.23,241.21 593.14,241.21 594.05,241.21 594.96,241.21 595.87,241.21 596.78,241.21 597.69,241.21 598.6,241.21 599.51,241.2 600.42,241.2 601.33,241.2 602.24,241.2 603.15,241.2 604.06,241.2 604.97,241.2 605.88,241.2 606.79,241.2 607.7,241.2 608.61,241.2 609.52,241.2 610.43,241.2 611.34,241.2 612.25,241.2 613.16,241.2 614.07,241.2 614.98,241.2 615.89,241.2 616.8,241.2 617.71,241.2 618.62,241.2 619.53,241.2 620.44,241.2 621.35,241.2 622.26,241.2 623.17,241.2 624.08,241.2 624.99,241.2 625.9,241.2 626.81,241.2 627.72,241.2 628.63,241.2 629.54,241.2 630.45,241.2 631.36,241.2 632.27,241.2 633.18,241.2 634.09,241.2 635,241.2 635.91,241.2 636.82,241.2 637.73,241.2 638.64,241.2 639.55,241.2" fill="none" stroke="#0000ff" stroke-width="1.1" stroke-linejoin="round"/>
<path d="M384.75 252.3L387.85 257.43L381.65 257.43Z" fill="#0000ff"/>
<path d="M402.95 248.3L406.05 253.43L399.85 253.43Z" fill="#0000ff"/>
<path d="M421.15 244.8L424.25 249.93L418.05 249.93Z" fill="#0000ff"/>
<path d="M439.35 242.3L442.45 247.43L436.25 247.43Z" fill="#0000ff"/>
<path d="M457.55 240.8L460.65 245.93L454.45 245.93Z" fill="#0000ff"/>
<path d="M475.75 239.8L478.85 244.93L472.65 244.93Z" fill="#0000ff"/>
<path d="M493.95 239.05L497.05 244.18L490.85 244.18Z" fill="#0000ff"/>
<path d="M512.15 238.6L515.25 243.73L509.05 243.73Z" fill="#0000ff"/>
<path d="M530.35 238.4L533.45 243.53L527.25 243.53Z" fill="#0000ff"/>
<path d="M548.55 238.3L551.65 243.43L545.45 243.43Z" fill="#0000ff"/>
<path d="M566.75 238.2L569.85 243.33L563.65 243.33Z" fill="#0000ff"/>
<path d="M584.95 238.2L588.05 243.33L581.85 243.33Z" fill="#0000ff"/>
<path d="M603.15 238.2L606.25 243.33L600.05 243.33Z" fill="#0000ff"/>
<path d="M621.35 238.2L624.45 243.33L618.25 243.33Z" fill="#0000ff"/>
<path d="M639.55 238.2L642.65 243.33L636.45 243.33Z" fill="#0000ff"/>
<polyline points="384.75,244.55 385.66,244.52 386.57,244.49 387.48,244.45 388.39,244.42 389.3,244.38 390.21,244.35 391.12,244.31 392.03,244.28 392.94,244.24 393.85,244.2 394.76,244.16 395.67,244.12 396.58,244.08 397.49,244.04 398.4,244 399.31,243.96 400.22,243.92 401.13,243.88 402.04,243.84 402.95,243.8 403.86,243.76 404.77,243.72 405.68,243.68 406.59,243.64 407.5,243.6 408.41,243.56 409.32,243.52 410.23,243.48 411.14,243.44 412.05,243.4 412.96,243.36 413.87,243.33 414.78,243.29 415.69,243.25 416.6,243.22 417.51,243.18 418.42,243.15 419.33,243.12 420.24,243.08 421.15,243.05 422.06,243.02 422.97,242.99 423.88,242.96 424.79,242.93 425.7,242.9 426.61,242.87 427.52,242.85 428.43,242.82 429.34,242.79 430.25,242.77 431.16,242.74 432.07,242.72 432.98,242.7 433.89,242.68 434.8,242.66 435.71,242.63 436.62,242.61 437.53,242.59 438.44,242.57 439.35,242.55 440.26,242.53 441.17,242.51 442.08,242.48 442.99,242.46 443.9,242.44 444.81,242.41 445.72,242.39 446.63,242.36 447.54,242.34 448.45,242.31 449.36,242.29 450.27,242.26 451.18,242.24 452.09,242.21 453,242.18 453.91,242.16 454.82,242.13 455.73,242.1 456.64,242.08 457.55,242.05 458.46,242.02 459.37,242 460.28,241.97 461.19,241.95 462.1,241.92 463.01,241.9 463.92,241.87 464.83,241.85 465.74,241.82 466.65,241.8 467.56,241.78 468.47,241.76 469.38,241.73 470.29,241.71 471.2,241.69 472.11,241.67 473.02,241.65 473.93,241.64 474.84,241.62 475.75,241.6 476.66,241.58 477.57,241.57 478.48,241.55 479.39,241.54 480.3,241.52 481.21,241.51 482.12,241.5 483.03,241.49 483.94,241.48 484.85,241.47 485.76,241.46 486.67,241.45 487.58,241.44 488.49,241.43 489.4,241.43 490.31,241.42 491.22,241.42 492.13,241.41 493.04,241.4 493.95,241.4 494.86,241.4 495.77,241.39 496.68,241.39 497.59,241.38 498.5,241.38 499.41,241.37 500.32,241.37 501.23,241.36 502.14,241.36 503.05,241.35 503.96,241.35 504.87,241.34 505.78,241.34 506.69,241.33 507.6,241.33 508.51,241.32 509.42,241.32 510.33,241.31 511.24,241.31 512.15,241.3 513.06,241.29 513.97,241.29 514.88,241.28 515.79,241.28 516.7,241.27 517.61,241.27 518.52,241.26 519.43,241.26 520.34,241.25 521.25,241.25 522.16,241.24 523.07,241.24 523.98,241.23 524.89,241.23 525.8,241.22 526.71,241.22 527.62,241.21 528.53,241.21 529.44,241.2 530.35,241.2 531.26,241.2 532.17,241.19 533.08,241.19 533.99,241.19 534.9,241.19 535.81,241.19 536.72,241.19 537.63,241.18 538.54,241.18 539.45,241.18 540.36,241.19 541.27,241.19 542.18,241.19 543.09,241.19 544,241.19 544.91,241.19 545.82,241.19 546.73,241.2 547.64,241.2 548.55,241.2 549.46,241.2 550.37,241.2 551.28,241.2 552.19,241.21 553.1,241.21 554.01,241.21 554.92,241.21 555.83,241.21 556.74,241.21 557.65,241.21 558.56,241.21 559.47,241.21 560.38,241.21 561.29,241.21 562.2,241.2 563.11,241.2 564.02,241.2 564.93,241.2 565.84,241.2 566.75,241.2 567.66,241.2 568.57,241.2 569.48,241.2 570.39,241.2 571.3,241.2 572.21,241.2 573.12,241.2 574.03,241.2 574.94,241.2 575.85,241.2 576.76,241.2 577.67,241.2 578.58,241.2 579.49,241.2 580.4,241.2 581.31,241.2 582.22,241.2 583.13,241.2 584.04,241.2 584.95,241.2 585.86,241.2 586.77,241.2 587.68,241.2 588.59,241.2 589.5,241.2 590.41,241.2 591.32,241.2 592.23,241.2 593.14,241.2 594.05,241.2 594.96,241.2 595.87,241.2 596.78,241.2 597.69,241.2 598.6,241.2 599.51,241.2 600.42,241.2 601.33,241.2 602.24,241.2 603.15,241.2 604.06,241.2 604.97,241.2 605.88,241.2 606.79,241.2 607.7,241.2 608.61,241.2 609.52,241.2 610.43,241.2 611.34,241.2 612.25,241.2 613.16,241.2 614.07,241.2 614.98,241.2 615.89,241.2 616.8,241.2 617.71,241.2 618.62,241.2 619.53,241.2 620.44,241.2 621.35,241.2 622.26,241.2 623.17,241.2 624.08,241.2 624.99,241.2 625.9,241.2 626.81,241.2 627.72,241.2 628.63,241.2 629.54,241.2 630.45,241.2 631.36,241.2 632.27,241.2 633.18,241.2 634.09,241.2 635,241.2 635.91,241.2 636.82,241.2 637.73,241.2 638.64,241.2 639.55,241.2" fill="none" stroke="#ff00ff" stroke-width="1.1" stroke-linejoin="round"/>
<path d="M384.75 241.3L387.7 244.55L384.75 247.8L381.8 244.55Z" fill="#ff00ff"/>
<path d="M402.95 240.55L405.9 243.8L402.95 247.05L400 243.8Z" fill="#ff00ff"/>
<path d="M421.15 239.8L424.1 243.05L421.15 246.3L418.2 243.05Z" fill="#ff00ff"/>
<path d="M439.35 239.3L442.3 242.55L439.35 245.8L436.4 242.55Z" fill="#ff00ff"/>
<path d="M457.55 238.8L460.5 242.05L457.55 245.3L454.6 242.05Z" fill="#ff00ff"/>
<path d="M475.75 238.35L478.7 241.6L475.75 244.85L472.8 241.6Z" fill="#ff00ff"/>
<path d="M493.95 238.15L496.9 241.4L493.95 244.65L491 241.4Z" fill="#ff00ff"/>
<path d="M512.15 238.05L515.1 241.3L512.15 244.55L509.2 241.3Z" fill="#ff00ff"/>
<path d="M530.35 237.95L533.3 241.2L530.35 244.45L527.4 241.2Z" fill="#ff00ff"/>
<path d="M548.55 237.95L551.5 241.2L548.55 244.45L545.6 241.2Z" fill="#ff00ff"/>
<path d="M566.75 237.95L569.7 241.2L566.75 244.45L563.8 241.2Z" fill="#ff00ff"/>
<path d="M584.95 237.95L587.9 241.2L584.95 244.45L582 241.2Z" fill="#ff00ff"/>
<path d="M603.15 237.95L606.1 241.2L603.15 244.45L600.2 241.2Z" fill="#ff00ff"/>
<path d="M621.35 237.95L624.3 241.2L621.35 244.45L618.4 241.2Z" fill="#ff00ff"/>
<path d="M639.55 237.95L642.5 241.2L639.55 244.45L636.6 241.2Z" fill="#ff00ff"/>
<g stroke="#000" stroke-width="1" fill="none">
<path d="M72.19 9.2L72.19 12.3"/>
<path d="M72.19 216.3L72.19 222.5"/>
<path d="M72.19 429.4L72.19 426.3"/>
<path d="M76.73 9.2L76.73 12.3"/>
<path d="M76.73 216.3L76.73 222.5"/>
<path d="M76.73 429.4L76.73 426.3"/>
<path d="M80.8 9.2L80.8 15.1"/>
<path d="M80.8 213.5L80.8 225.3"/>
<path d="M80.8 429.4L80.8 423.5"/>
<path d="M107.55 9.2L107.55 12.3"/>
<path d="M107.55 216.3L107.55 222.5"/>
<path d="M107.55 429.4L107.55 426.3"/>
<path d="M123.19 9.2L123.19 12.3"/>
<path d="M123.19 216.3L123.19 222.5"/>
<path d="M123.19 429.4L123.19 426.3"/>
<path d="M134.29 9.2L134.29 12.3"/>
<path d="M134.29 216.3L134.29 222.5"/>
<path d="M134.29 429.4L134.29 426.3"/>
<path d="M142.9 9.2L142.9 12.3"/>
<path d="M142.9 216.3L142.9 222.5"/>
<path d="M142.9 429.4L142.9 426.3"/>
<path d="M149.94 9.2L149.94 12.3"/>
<path d="M149.94 216.3L149.94 222.5"/>
<path d="M149.94 429.4L149.94 426.3"/>
<path d="M155.89 9.2L155.89 12.3"/>
<path d="M155.89 216.3L155.89 222.5"/>
<path d="M155.89 429.4L155.89 426.3"/>
<path d="M161.04 9.2L161.04 12.3"/>
<path d="M161.04 216.3L161.04 222.5"/>
<path d="M161.04 429.4L161.04 426.3"/>
<path d="M165.58 9.2L165.58 12.3"/>
<path d="M165.58 216.3L165.58 222.5"/>
<path d="M165.58 429.4L165.58 426.3"/>
<path d="M169.65 9.2L169.65 15.1"/>
<path d="M169.65 213.5L169.65 225.3"/>
<path d="M169.65 429.4L169.65 423.5"/>
<path d="M196.4 9.2L196.4 12.3"/>
<path d="M196.4 216.3L196.4 222.5"/>
<path d="M196.4 429.4L196.4 426.3"/>
<path d="M212.04 9.2L212.04 12.3"/>
<path d="M212.04 216.3L212.04 222.5"/>
<path d="M212.04 429.4L212.04 426.3"/>
<path d="M223.14 9.2L223.14 12.3"/>
<path d="M223.14 216.3L223.14 222.5"/>
<path d="M223.14 429.4L223.14 426.3"/>
<path d="M231.75 9.2L231.75 12.3"/>
<path d="M231.75 216.3L231.75 222.5"/>
<path d="M231.75 429.4L231.75 426.3"/>
<path d="M238.79 9.2L238.79 12.3"/>
<path d="M238.79 216.3L238.79 222.5"/>
<path d="M238.79 429.4L238.79 426.3"/>
<path d="M244.74 9.2L244.74 12.3"/>
<path d="M244.74 216.3L244.74 222.5"/>
<path d="M244.74 429.4L244.74 426.3"/>
<path d="M249.89 9.2L249.89 12.3"/>
<path d="M249.89 216.3L249.89 222.5"/>
<path d="M249.89 429.4L249.89 426.3"/>
<path d="M254.43 9.2L254.43 12.3"/>
<path d="M254.43 216.3L254.43 222.5"/>
<path d="M254.43 429.4L254.43 426.3"/>
<path d="M258.5 9.2L258.5 15.1"/>
<path d="M258.5 213.5L258.5 225.3"/>
<path d="M258.5 429.4L258.5 423.5"/>
<path d="M285.25 9.2L285.25 12.3"/>
<path d="M285.25 216.3L285.25 222.5"/>
<path d="M285.25 429.4L285.25 426.3"/>
<path d="M300.89 9.2L300.89 12.3"/>
<path d="M300.89 216.3L300.89 222.5"/>
<path d="M300.89 429.4L300.89 426.3"/>
<path d="M311.99 9.2L311.99 12.3"/>
<path d="M311.99 216.3L311.99 222.5"/>
<path d="M311.99 429.4L311.99 426.3"/>
<path d="M320.6 9.2L320.6 12.3"/>
<path d="M320.6 216.3L320.6 222.5"/>
<path d="M320.6 429.4L320.6 426.3"/>
<path d="M327.64 9.2L327.64 12.3"/>
<path d="M327.64 216.3L327.64 222.5"/>
<path d="M327.64 429.4L327.64 426.3"/>
<path d="M333.59 9.2L333.59 12.3"/>
<path d="M333.59 216.3L333.59 222.5"/>
<path d="M333.59 429.4L333.59 426.3"/>
<path d="M338.74 9.2L338.74 12.3"/>
<path d="M338.74 216.3L338.74 222.5"/>
<path d="M338.74 429.4L338.74 426.3"/>
<path d="M343.28 9.2L343.28 12.3"/>
<path d="M343.28 216.3L343.28 222.5"/>
<path d="M343.28 429.4L343.28 426.3"/>
<path d="M347.35 9.2L347.35 15.1"/>
<path d="M347.35 213.5L347.35 225.3"/>
<path d="M347.35 429.4L347.35 423.5"/>
<path d="M365.88 9.2L365.88 12.3"/>
<path d="M365.88 216.3L365.88 222.5"/>
<path d="M365.88 429.4L365.88 426.3"/>
<path d="M370.54 9.2L370.54 12.3"/>
<path d="M370.54 216.3L370.54 222.5"/>
<path d="M370.54 429.4L370.54 426.3"/>
<path d="M374.7 9.2L374.7 15.1"/>
<path d="M374.7 213.5L374.7 225.3"/>
<path d="M374.7 429.4L374.7 423.5"/>
<path d="M402.09 9.2L402.09 12.3"/>
<path d="M402.09 216.3L402.09 222.5"/>
<path d="M402.09 429.4L402.09 426.3"/>
<path d="M418.12 9.2L418.12 12.3"/>
<path d="M418.12 216.3L418.12 222.5"/>
<path d="M418.12 429.4L418.12 426.3"/>
<path d="M429.49 9.2L429.49 12.3"/>
<path d="M429.49 216.3L429.49 222.5"/>
<path d="M429.49 429.4L429.49 426.3"/>
<path d="M438.31 9.2L438.31 12.3"/>
<path d="M438.31 216.3L438.31 222.5"/>
<path d="M438.31 429.4L438.31 426.3"/>
<path d="M445.51 9.2L445.51 12.3"/>
<path d="M445.51 216.3L445.51 222.5"/>
<path d="M445.51 429.4L445.51 426.3"/>
<path d="M451.6 9.2L451.6 12.3"/>
<path d="M451.6 216.3L451.6 222.5"/>
<path d="M451.6 429.4L451.6 426.3"/>
<path d="M456.88 9.2L456.88 12.3"/>
<path d="M456.88 216.3L456.88 222.5"/>
<path d="M456.88 429.4L456.88 426.3"/>
<path d="M461.54 9.2L461.54 12.3"/>
<path d="M461.54 216.3L461.54 222.5"/>
<path d="M461.54 429.4L461.54 426.3"/>
<path d="M465.7 9.2L465.7 15.1"/>
<path d="M465.7 213.5L465.7 225.3"/>
<path d="M465.7 429.4L465.7 423.5"/>
<path d="M493.09 9.2L493.09 12.3"/>
<path d="M493.09 216.3L493.09 222.5"/>
<path d="M493.09 429.4L493.09 426.3"/>
<path d="M509.12 9.2L509.12 12.3"/>
<path d="M509.12 216.3L509.12 222.5"/>
<path d="M509.12 429.4L509.12 426.3"/>
<path d="M520.49 9.2L520.49 12.3"/>
<path d="M520.49 216.3L520.49 222.5"/>
<path d="M520.49 429.4L520.49 426.3"/>
<path d="M529.31 9.2L529.31 12.3"/>
<path d="M529.31 216.3L529.31 222.5"/>
<path d="M529.31 429.4L529.31 426.3"/>
<path d="M536.51 9.2L536.51 12.3"/>
<path d="M536.51 216.3L536.51 222.5"/>
<path d="M536.51 429.4L536.51 426.3"/>
<path d="M542.6 9.2L542.6 12.3"/>
<path d="M542.6 216.3L542.6 222.5"/>
<path d="M542.6 429.4L542.6 426.3"/>
<path d="M547.88 9.2L547.88 12.3"/>
<path d="M547.88 216.3L547.88 222.5"/>
<path d="M547.88 429.4L547.88 426.3"/>
<path d="M552.54 9.2L552.54 12.3"/>
<path d="M552.54 216.3L552.54 222.5"/>
<path d="M552.54 429.4L552.54 426.3"/>
<path d="M556.7 9.2L556.7 15.1"/>
<path d="M556.7 213.5L556.7 225.3"/>
<path d="M556.7 429.4L556.7 423.5"/>
<path d="M584.09 9.2L584.09 12.3"/>
<path d="M584.09 216.3L584.09 222.5"/>
<path d="M584.09 429.4L584.09 426.3"/>
<path d="M600.12 9.2L600.12 12.3"/>
<path d="M600.12 216.3L600.12 222.5"/>
<path d="M600.12 429.4L600.12 426.3"/>
<path d="M611.49 9.2L611.49 12.3"/>
<path d="M611.49 216.3L611.49 222.5"/>
<path d="M611.49 429.4L611.49 426.3"/>
<path d="M620.31 9.2L620.31 12.3"/>
<path d="M620.31 216.3L620.31 222.5"/>
<path d="M620.31 429.4L620.31 426.3"/>
<path d="M627.51 9.2L627.51 12.3"/>
<path d="M627.51 216.3L627.51 222.5"/>
<path d="M627.51 429.4L627.51 426.3"/>
<path d="M633.6 9.2L633.6 12.3"/>
<path d="M633.6 216.3L633.6 222.5"/>
<path d="M633.6 429.4L633.6 426.3"/>
<path d="M638.88 9.2L638.88 12.3"/>
<path d="M638.88 216.3L638.88 222.5"/>
<path d="M638.88 429.4L638.88 426.3"/>
<path d="M643.54 9.2L643.54 12.3"/>
<path d="M643.54 216.3L643.54 222.5"/>
<path d="M643.54 429.4L643.54 426.3"/>
<path d="M647.7 9.2L647.7 15.1"/>
<path d="M647.7 213.5L647.7 225.3"/>
<path d="M647.7 429.4L647.7 423.5"/>
<path d="M66.7 210.26L72.6 210.26"/>
<path d="M354.8 210.26L366.6 210.26"/>
<path d="M655.4 210.26L661.3 210.26"/>
<path d="M66.7 201.12L69.8 201.12"/>
<path d="M357.6 201.12L363.8 201.12"/>
<path d="M658.2 201.12L661.3 201.12"/>
<path d="M66.7 191.97L69.8 191.97"/>
<path d="M357.6 191.97L363.8 191.97"/>
<path d="M658.2 191.97L661.3 191.97"/>
<path d="M66.7 182.83L69.8 182.83"/>
<path d="M357.6 182.83L363.8 182.83"/>
<path d="M658.2 182.83L661.3 182.83"/>
<path d="M66.7 173.69L69.8 173.69"/>
<path d="M357.6 173.69L363.8 173.69"/>
<path d="M658.2 173.69L661.3 173.69"/>
<path d="M66.7 164.55L72.6 164.55"/>
<path d="M354.8 164.55L366.6 164.55"/>
<path d="M655.4 164.55L661.3 164.55"/>
<path d="M66.7 155.4L69.8 155.4"/>
<path d="M357.6 155.4L363.8 155.4"/>
<path d="M658.2 155.4L661.3 155.4"/>
<path d="M66.7 146.26L69.8 146.26"/>
<path d="M357.6 146.26L363.8 146.26"/>
<path d="M658.2 146.26L661.3 146.26"/>
<path d="M66.7 137.12L69.8 137.12"/>
<path d="M357.6 137.12L363.8 137.12"/>
<path d="M658.2 137.12L661.3 137.12"/>
<path d="M66.7 127.97L69.8 127.97"/>
<path d="M357.6 127.97L363.8 127.97"/>
<path d="M658.2 127.97L661.3 127.97"/>
<path d="M66.7 118.83L72.6 118.83"/>
<path d="M354.8 118.83L366.6 118.83"/>
<path d="M655.4 118.83L661.3 118.83"/>
<path d="M66.7 109.69L69.8 109.69"/>
<path d="M357.6 109.69L363.8 109.69"/>
<path d="M658.2 109.69L661.3 109.69"/>
<path d="M66.7 100.54L69.8 100.54"/>
<path d="M357.6 100.54L363.8 100.54"/>
<path d="M658.2 100.54L661.3 100.54"/>
<path d="M66.7 91.4L69.8 91.4"/>
<path d="M357.6 91.4L363.8 91.4"/>
<path d="M658.2 91.4L661.3 91.4"/>
<path d="M66.7 82.26L69.8 82.26"/>
<path d="M357.6 82.26L363.8 82.26"/>
<path d="M658.2 82.26L661.3 82.26"/>
<path d="M66.7 73.12L72.6 73.12"/>
<path d="M354.8 73.12L366.6 73.12"/>
<path d="M655.4 73.12L661.3 73.12"/>
<path d="M66.7 63.97L69.8 63.97"/>
<path d="M357.6 63.97L363.8 63.97"/>
<path d="M658.2 63.97L661.3 63.97"/>
<path d="M66.7 54.83L69.8 54.83"/>
<path d="M357.6 54.83L363.8 54.83"/>
<path d="M658.2 54.83L661.3 54.83"/>
<path d="M66.7 45.69L69.8 45.69"/>
<path d="M357.6 45.69L363.8 45.69"/>
<path d="M658.2 45.69L661.3 45.69"/>
<path d="M66.7 36.54L69.8 36.54"/>
<path d="M357.6 36.54L363.8 36.54"/>
<path d="M658.2 36.54L661.3 36.54"/>
<path d="M66.7 27.4L72.6 27.4"/>
<path d="M354.8 27.4L366.6 27.4"/>
<path d="M655.4 27.4L661.3 27.4"/>
<path d="M66.7 18.26L69.8 18.26"/>
<path d="M357.6 18.26L363.8 18.26"/>
<path d="M658.2 18.26L661.3 18.26"/>
<path d="M66.7 424.5L69.8 424.5"/>
<path d="M357.6 424.5L363.8 424.5"/>
<path d="M658.2 424.5L661.3 424.5"/>
<path d="M66.7 419.1L69.8 419.1"/>
<path d="M357.6 419.1L363.8 419.1"/>
<path d="M658.2 419.1L661.3 419.1"/>
<path d="M66.7 413.7L69.8 413.7"/>
<path d="M357.6 413.7L363.8 413.7"/>
<path d="M658.2 413.7L661.3 413.7"/>
<path d="M66.7 408.3L69.8 408.3"/>
<path d="M357.6 408.3L363.8 408.3"/>
<path d="M658.2 408.3L661.3 408.3"/>
<path d="M66.7 402.9L72.6 402.9"/>
<path d="M354.8 402.9L366.6 402.9"/>
<path d="M655.4 402.9L661.3 402.9"/>
<path d="M66.7 397.5L69.8 397.5"/>
<path d="M357.6 397.5L363.8 397.5"/>
<path d="M658.2 397.5L661.3 397.5"/>
<path d="M66.7 392.1L69.8 392.1"/>
<path d="M357.6 392.1L363.8 392.1"/>
<path d="M658.2 392.1L661.3 392.1"/>
<path d="M66.7 386.7L69.8 386.7"/>
<path d="M357.6 386.7L363.8 386.7"/>
<path d="M658.2 386.7L661.3 386.7"/>
<path d="M66.7 381.3L69.8 381.3"/>
<path d="M357.6 381.3L363.8 381.3"/>
<path d="M658.2 381.3L661.3 381.3"/>
<path d="M66.7 375.9L72.6 375.9"/>
<path d="M354.8 375.9L366.6 375.9"/>
<path d="M655.4 375.9L661.3 375.9"/>
<path d="M66.7 370.5L69.8 370.5"/>
<path d="M357.6 370.5L363.8 370.5"/>
<path d="M658.2 370.5L661.3 370.5"/>
<path d="M66.7 365.1L69.8 365.1"/>
<path d="M357.6 365.1L363.8 365.1"/>
<path d="M658.2 365.1L661.3 365.1"/>
<path d="M66.7 359.7L69.8 359.7"/>
<path d="M357.6 359.7L363.8 359.7"/>
<path d="M658.2 359.7L661.3 359.7"/>
<path d="M66.7 354.3L69.8 354.3"/>
<path d="M357.6 354.3L363.8 354.3"/>
<path d="M658.2 354.3L661.3 354.3"/>
<path d="M66.7 348.9L72.6 348.9"/>
<path d="M354.8 348.9L366.6 348.9"/>
<path d="M655.4 348.9L661.3 348.9"/>
<path d="M66.7 343.5L69.8 343.5"/>
<path d="M357.6 343.5L363.8 343.5"/>
<path d="M658.2 343.5L661.3 343.5"/>
<path d="M66.7 338.1L69.8 338.1"/>
<path d="M357.6 338.1L363.8 338.1"/>
<path d="M658.2 338.1L661.3 338.1"/>
<path d="M66.7 332.7L69.8 332.7"/>
<path d="M357.6 332.7L363.8 332.7"/>
<path d="M658.2 332.7L661.3 332.7"/>
<path d="M66.7 327.3L69.8 327.3"/>
<path d="M357.6 327.3L363.8 327.3"/>
<path d="M658.2 327.3L661.3 327.3"/>
<path d="M66.7 321.9L72.6 321.9"/>
<path d="M354.8 321.9L366.6 321.9"/>
<path d="M655.4 321.9L661.3 321.9"/>
<path d="M66.7 316.5L69.8 316.5"/>
<path d="M357.6 316.5L363.8 316.5"/>
<path d="M658.2 316.5L661.3 316.5"/>
<path d="M66.7 311.1L69.8 311.1"/>
<path d="M357.6 311.1L363.8 311.1"/>
<path d="M658.2 311.1L661.3 311.1"/>
<path d="M66.7 305.7L69.8 305.7"/>
<path d="M357.6 305.7L363.8 305.7"/>
<path d="M658.2 305.7L661.3 305.7"/>
<path d="M66.7 300.3L69.8 300.3"/>
<path d="M357.6 300.3L363.8 300.3"/>
<path d="M658.2 300.3L661.3 300.3"/>
<path d="M66.7 294.9L72.6 294.9"/>
<path d="M354.8 294.9L366.6 294.9"/>
<path d="M655.4 294.9L661.3 294.9"/>
<path d="M66.7 289.5L69.8 289.5"/>
<path d="M357.6 289.5L363.8 289.5"/>
<path d="M658.2 289.5L661.3 289.5"/>
<path d="M66.7 284.1L69.8 284.1"/>
<path d="M357.6 284.1L363.8 284.1"/>
<path d="M658.2 284.1L661.3 284.1"/>
<path d="M66.7 278.7L69.8 278.7"/>
<path d="M357.6 278.7L363.8 278.7"/>
<path d="M658.2 278.7L661.3 278.7"/>
<path d="M66.7 273.3L69.8 273.3"/>
<path d="M357.6 273.3L363.8 273.3"/>
<path d="M658.2 273.3L661.3 273.3"/>
<path d="M66.7 267.9L72.6 267.9"/>
<path d="M354.8 267.9L366.6 267.9"/>
<path d="M655.4 267.9L661.3 267.9"/>
<path d="M66.7 262.5L69.8 262.5"/>
<path d="M357.6 262.5L363.8 262.5"/>
<path d="M658.2 262.5L661.3 262.5"/>
<path d="M66.7 257.1L69.8 257.1"/>
<path d="M357.6 257.1L363.8 257.1"/>
<path d="M658.2 257.1L661.3 257.1"/>
<path d="M66.7 251.7L69.8 251.7"/>
<path d="M357.6 251.7L363.8 251.7"/>
<path d="M658.2 251.7L661.3 251.7"/>
<path d="M66.7 246.3L69.8 246.3"/>
<path d="M357.6 246.3L363.8 246.3"/>
<path d="M658.2 246.3L661.3 246.3"/>
<path d="M66.7 240.9L72.6 240.9"/>
<path d="M354.8 240.9L366.6 240.9"/>
<path d="M655.4 240.9L661.3 240.9"/>
<path d="M66.7 235.5L69.8 235.5"/>
<path d="M357.6 235.5L363.8 235.5"/>
<path d="M658.2 235.5L661.3 235.5"/>
<path d="M66.7 230.1L69.8 230.1"/>
<path d="M357.6 230.1L363.8 230.1"/>
<path d="M658.2 230.1L661.3 230.1"/>
<path d="M66.7 224.7L69.8 224.7"/>
<path d="M357.6 224.7L363.8 224.7"/>
<path d="M658.2 224.7L661.3 224.7"/>
</g>
<g stroke="#000" stroke-width="1.2" fill="none">
<rect x="66.7" y="9.2" width="594.6" height="420.2"/>
<path d="M360.7 9.2L360.7 429.4M66.7 219.4L661.3 219.4"/>
</g>
<text x="55.6" y="34.2" text-anchor="end">0</text>
<text x="55.6" y="79.92" text-anchor="end">-50</text>
<text x="55.6" y="125.63" text-anchor="end">-100</text>
<text x="55.6" y="171.35" text-anchor="end">-150</text>
<text x="55.6" y="217.06" text-anchor="end">-200</text>
<text x="55.6" y="247.7" text-anchor="end">0</text>
<text x="55.6" y="274.7" text-anchor="end">-5</text>
<text x="55.6" y="301.7" text-anchor="end">-10</text>
<text x="55.6" y="328.7" text-anchor="end">-15</text>
<text x="55.6" y="355.7" text-anchor="end">-20</text>
<text x="55.6" y="382.7" text-anchor="end">-25</text>
<text x="55.6" y="409.7" text-anchor="end">-30</text>
<text x="55.6" y="436.7" text-anchor="end">-35</text>
<text x="82.8" y="454.6" text-anchor="middle">0.001</text>
<text x="171.65" y="454.6" text-anchor="middle">0.01</text>
<text x="260.5" y="454.6" text-anchor="middle">0.1</text>
<text x="349.35" y="454.6" text-anchor="middle">1</text>
<text x="213.6" y="464.0" text-anchor="middle">x</text>
<text x="377" y="454.6" text-anchor="middle">0.001</text>
<text x="468" y="454.6" text-anchor="middle">0.01</text>
<text x="559" y="454.6" text-anchor="middle">0.1</text>
<text x="650" y="454.6" text-anchor="middle">1</text>
<text x="510.9" y="464.0" text-anchor="middle">x</text>
<text x="335.8" y="61.8" font-size="17.6">π<tspan font-size="13.8" dy="-7.0" dx="0">+</tspan></text>
<text x="637.4" y="61.8" font-size="17.6">π<tspan font-size="11.0" dy="-8.6" dx="-0.4" fill="#444">-</tspan></text>
<text x="335.1" y="268.8" font-size="19.6">κ<tspan font-size="13.8" dy="-5.4" dx="-1.0">+</tspan></text>
<text x="636.8" y="268.8" font-size="19.6">κ<tspan font-size="11.0" dy="-7.0" dx="-1.4" fill="#444">-</tspan></text>
<g transform="translate(19.6,156.5) rotate(-90)"><text x="0" y="0">g<tspan font-size="14.7" dy="7.2">5</tspan><tspan font-size="14.7" dy="-15.4">H,W</tspan><tspan font-size="11.8" dy="-7.4">-</tspan></text></g>
<g transform="translate(19.6,348.1) rotate(-90)"><text x="0" y="0">g<tspan font-size="14.7" dy="7.2">5</tspan><tspan font-size="14.7" dy="-15.4">H,W</tspan><tspan font-size="11.8" dy="-7.4">-</tspan></text></g>
<text x="500" y="359.0">z=0.1-0.2</text>
<rect x="604.2" y="349.7" width="6.2" height="6.2" fill="#ff0000"/>
<text x="500" y="377.3">z=0.2-0.4</text>
<circle cx="607.3" cy="371.25" r="3.3" fill="#006400"/>
<text x="500" y="395.7">z=0.4-0.6</text>
<path d="M607.3 386.3L610.4 391.43L604.2 391.43Z" fill="#0000ff"/>
<text x="500" y="414.1">z=0.6-0.8</text>
<path d="M607.3 405.05L610.25 408.3L607.3 411.55L604.35 408.3Z" fill="#ff00ff"/>
</svg>
</body></html>
